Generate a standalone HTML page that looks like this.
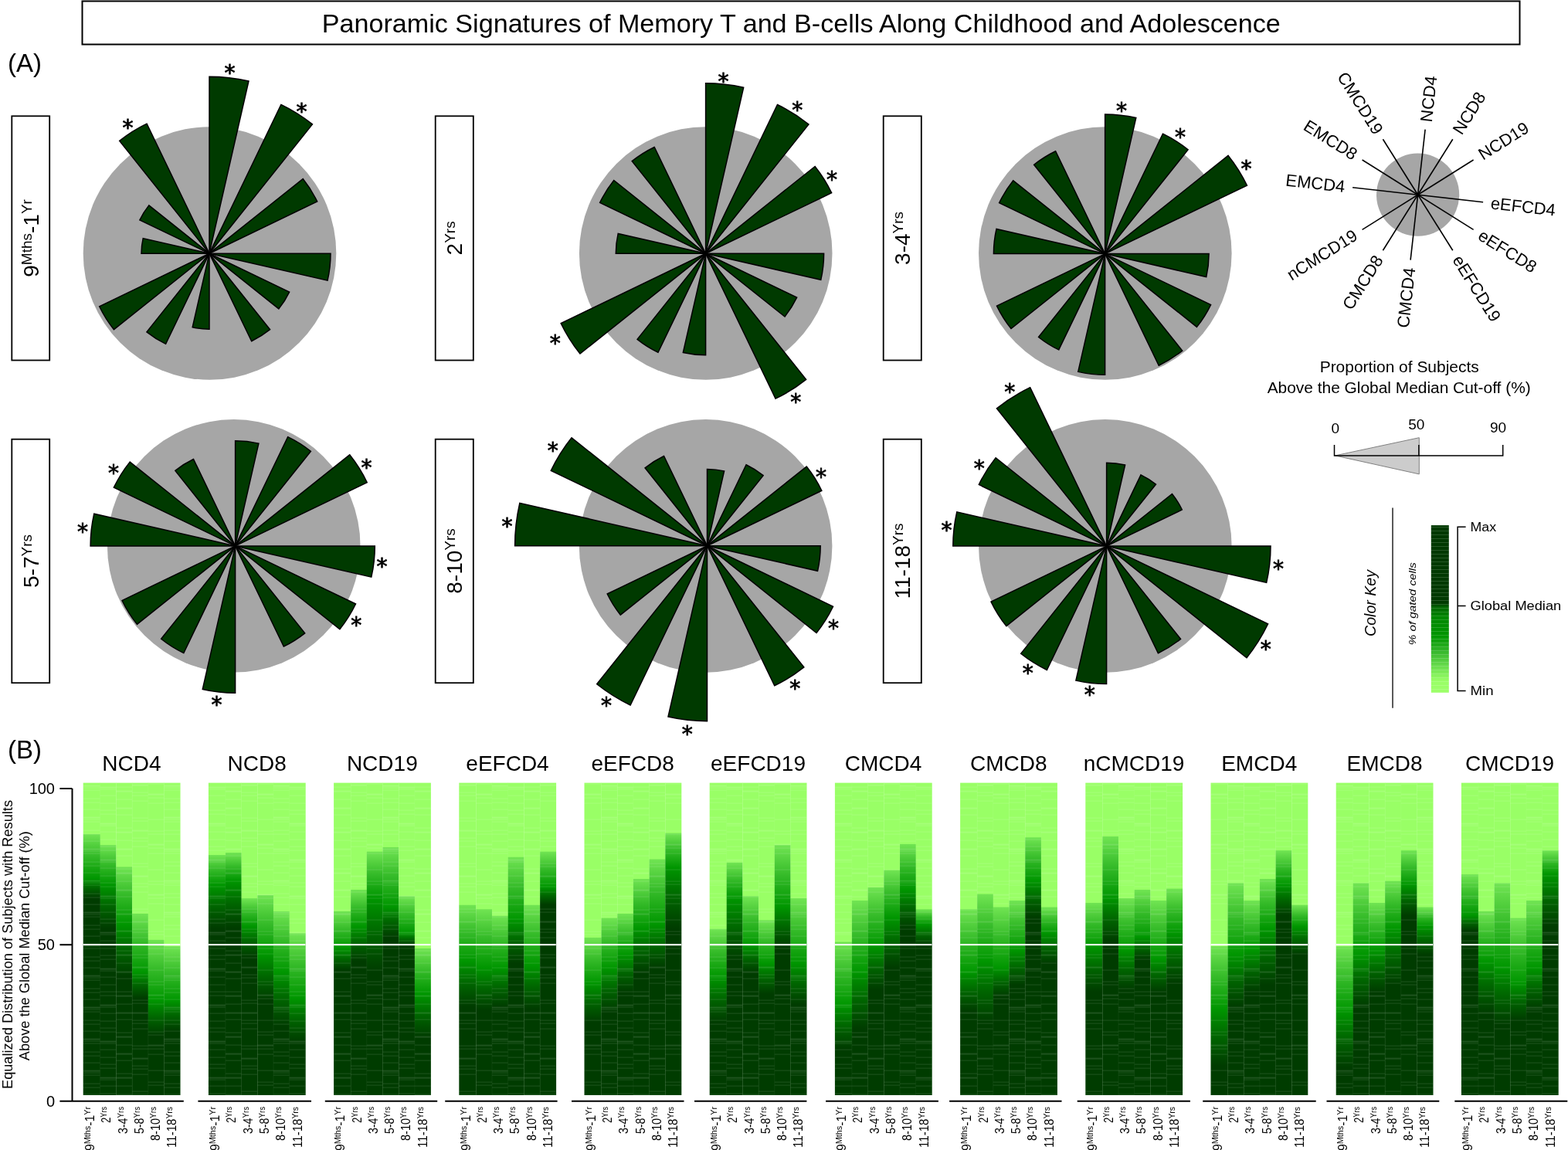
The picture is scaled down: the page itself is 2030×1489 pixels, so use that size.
<!DOCTYPE html>
<html><head><meta charset="utf-8"><title>Panoramic Signatures</title><style>html,body{margin:0;padding:0;background:#fff;}svg{display:block;}</style></head><body>
<svg width="2030" height="1489" viewBox="0 0 2030 1489">
<defs>
<linearGradient id="g0_0" x1="0" y1="0" x2="0" y2="1">
<stop offset="0.0000" stop-color="#99ff66"/>
<stop offset="0.1635" stop-color="#99ff66"/>
<stop offset="0.1655" stop-color="#70e452"/>
<stop offset="0.2349" stop-color="#34ba28"/>
<stop offset="0.3064" stop-color="#009600"/>
<stop offset="0.3377" stop-color="#006400"/>
<stop offset="0.3689" stop-color="#003c00"/>
<stop offset="1.0000" stop-color="#003c00"/>
</linearGradient>
<linearGradient id="g0_1" x1="0" y1="0" x2="0" y2="1">
<stop offset="0.0000" stop-color="#99ff66"/>
<stop offset="0.1983" stop-color="#99ff66"/>
<stop offset="0.2003" stop-color="#70e452"/>
<stop offset="0.2627" stop-color="#34ba28"/>
<stop offset="0.3272" stop-color="#009600"/>
<stop offset="0.3969" stop-color="#006400"/>
<stop offset="0.4666" stop-color="#003c00"/>
<stop offset="1.0000" stop-color="#003c00"/>
</linearGradient>
<linearGradient id="g0_2" x1="0" y1="0" x2="0" y2="1">
<stop offset="0.0000" stop-color="#99ff66"/>
<stop offset="0.2681" stop-color="#99ff66"/>
<stop offset="0.2701" stop-color="#70e452"/>
<stop offset="0.3604" stop-color="#34ba28"/>
<stop offset="0.4528" stop-color="#009600"/>
<stop offset="0.5364" stop-color="#006400"/>
<stop offset="0.6199" stop-color="#003c00"/>
<stop offset="1.0000" stop-color="#003c00"/>
</linearGradient>
<linearGradient id="g0_3" x1="0" y1="0" x2="0" y2="1">
<stop offset="0.0000" stop-color="#99ff66"/>
<stop offset="0.4179" stop-color="#99ff66"/>
<stop offset="0.4199" stop-color="#70e452"/>
<stop offset="0.5120" stop-color="#34ba28"/>
<stop offset="0.6061" stop-color="#009600"/>
<stop offset="0.6479" stop-color="#006400"/>
<stop offset="0.6897" stop-color="#003c00"/>
<stop offset="1.0000" stop-color="#003c00"/>
</linearGradient>
<linearGradient id="g0_4" x1="0" y1="0" x2="0" y2="1">
<stop offset="0.0000" stop-color="#99ff66"/>
<stop offset="0.5015" stop-color="#99ff66"/>
<stop offset="0.5035" stop-color="#70e452"/>
<stop offset="0.5990" stop-color="#34ba28"/>
<stop offset="0.6966" stop-color="#009600"/>
<stop offset="0.7523" stop-color="#006400"/>
<stop offset="0.8081" stop-color="#003c00"/>
<stop offset="1.0000" stop-color="#003c00"/>
</linearGradient>
<linearGradient id="g0_5" x1="0" y1="0" x2="0" y2="1">
<stop offset="0.0000" stop-color="#99ff66"/>
<stop offset="0.5223" stop-color="#99ff66"/>
<stop offset="0.5243" stop-color="#70e452"/>
<stop offset="0.6094" stop-color="#34ba28"/>
<stop offset="0.6966" stop-color="#009600"/>
<stop offset="0.7454" stop-color="#006400"/>
<stop offset="0.7943" stop-color="#003c00"/>
<stop offset="1.0000" stop-color="#003c00"/>
</linearGradient>
<linearGradient id="g1_0" x1="0" y1="0" x2="0" y2="1">
<stop offset="0.0000" stop-color="#99ff66"/>
<stop offset="0.2297" stop-color="#99ff66"/>
<stop offset="0.2317" stop-color="#70e452"/>
<stop offset="0.2786" stop-color="#34ba28"/>
<stop offset="0.3274" stop-color="#009600"/>
<stop offset="0.3966" stop-color="#006400"/>
<stop offset="0.4659" stop-color="#003c00"/>
<stop offset="1.0000" stop-color="#003c00"/>
</linearGradient>
<linearGradient id="g1_1" x1="0" y1="0" x2="0" y2="1">
<stop offset="0.0000" stop-color="#99ff66"/>
<stop offset="0.2226" stop-color="#99ff66"/>
<stop offset="0.2246" stop-color="#70e452"/>
<stop offset="0.2679" stop-color="#34ba28"/>
<stop offset="0.3133" stop-color="#009600"/>
<stop offset="0.3896" stop-color="#006400"/>
<stop offset="0.4659" stop-color="#003c00"/>
<stop offset="1.0000" stop-color="#003c00"/>
</linearGradient>
<linearGradient id="g1_2" x1="0" y1="0" x2="0" y2="1">
<stop offset="0.0000" stop-color="#99ff66"/>
<stop offset="0.3689" stop-color="#99ff66"/>
<stop offset="0.3709" stop-color="#70e452"/>
<stop offset="0.4143" stop-color="#34ba28"/>
<stop offset="0.4597" stop-color="#009600"/>
<stop offset="0.5085" stop-color="#006400"/>
<stop offset="0.5574" stop-color="#003c00"/>
<stop offset="1.0000" stop-color="#003c00"/>
</linearGradient>
<linearGradient id="g1_3" x1="0" y1="0" x2="0" y2="1">
<stop offset="0.0000" stop-color="#99ff66"/>
<stop offset="0.3586" stop-color="#99ff66"/>
<stop offset="0.3606" stop-color="#70e452"/>
<stop offset="0.4543" stop-color="#34ba28"/>
<stop offset="0.5500" stop-color="#009600"/>
<stop offset="0.6229" stop-color="#006400"/>
<stop offset="0.6958" stop-color="#003c00"/>
<stop offset="1.0000" stop-color="#003c00"/>
</linearGradient>
<linearGradient id="g1_4" x1="0" y1="0" x2="0" y2="1">
<stop offset="0.0000" stop-color="#99ff66"/>
<stop offset="0.4107" stop-color="#99ff66"/>
<stop offset="0.4127" stop-color="#70e452"/>
<stop offset="0.5084" stop-color="#34ba28"/>
<stop offset="0.6061" stop-color="#009600"/>
<stop offset="0.6930" stop-color="#006400"/>
<stop offset="0.7799" stop-color="#003c00"/>
<stop offset="1.0000" stop-color="#003c00"/>
</linearGradient>
<linearGradient id="g1_5" x1="0" y1="0" x2="0" y2="1">
<stop offset="0.0000" stop-color="#99ff66"/>
<stop offset="0.4807" stop-color="#99ff66"/>
<stop offset="0.4827" stop-color="#70e452"/>
<stop offset="0.5852" stop-color="#34ba28"/>
<stop offset="0.6897" stop-color="#009600"/>
<stop offset="0.7595" stop-color="#006400"/>
<stop offset="0.8294" stop-color="#003c00"/>
<stop offset="1.0000" stop-color="#003c00"/>
</linearGradient>
<linearGradient id="g2_0" x1="0" y1="0" x2="0" y2="1">
<stop offset="0.0000" stop-color="#99ff66"/>
<stop offset="0.4107" stop-color="#99ff66"/>
<stop offset="0.4127" stop-color="#70e452"/>
<stop offset="0.4701" stop-color="#34ba28"/>
<stop offset="0.5294" stop-color="#009600"/>
<stop offset="0.5642" stop-color="#006400"/>
<stop offset="0.5989" stop-color="#003c00"/>
<stop offset="1.0000" stop-color="#003c00"/>
</linearGradient>
<linearGradient id="g2_1" x1="0" y1="0" x2="0" y2="1">
<stop offset="0.0000" stop-color="#99ff66"/>
<stop offset="0.3412" stop-color="#99ff66"/>
<stop offset="0.3432" stop-color="#70e452"/>
<stop offset="0.4005" stop-color="#34ba28"/>
<stop offset="0.4597" stop-color="#009600"/>
<stop offset="0.5155" stop-color="#006400"/>
<stop offset="0.5712" stop-color="#003c00"/>
<stop offset="1.0000" stop-color="#003c00"/>
</linearGradient>
<linearGradient id="g2_2" x1="0" y1="0" x2="0" y2="1">
<stop offset="0.0000" stop-color="#99ff66"/>
<stop offset="0.2191" stop-color="#99ff66"/>
<stop offset="0.2211" stop-color="#70e452"/>
<stop offset="0.2940" stop-color="#34ba28"/>
<stop offset="0.3689" stop-color="#009600"/>
<stop offset="0.4875" stop-color="#006400"/>
<stop offset="0.6061" stop-color="#003c00"/>
<stop offset="1.0000" stop-color="#003c00"/>
</linearGradient>
<linearGradient id="g2_3" x1="0" y1="0" x2="0" y2="1">
<stop offset="0.0000" stop-color="#99ff66"/>
<stop offset="0.2052" stop-color="#99ff66"/>
<stop offset="0.2072" stop-color="#70e452"/>
<stop offset="0.3011" stop-color="#34ba28"/>
<stop offset="0.3969" stop-color="#009600"/>
<stop offset="0.4457" stop-color="#006400"/>
<stop offset="0.4946" stop-color="#003c00"/>
<stop offset="1.0000" stop-color="#003c00"/>
</linearGradient>
<linearGradient id="g2_4" x1="0" y1="0" x2="0" y2="1">
<stop offset="0.0000" stop-color="#99ff66"/>
<stop offset="0.3620" stop-color="#99ff66"/>
<stop offset="0.3640" stop-color="#70e452"/>
<stop offset="0.4214" stop-color="#34ba28"/>
<stop offset="0.4807" stop-color="#009600"/>
<stop offset="0.5015" stop-color="#006400"/>
<stop offset="0.5223" stop-color="#003c00"/>
<stop offset="1.0000" stop-color="#003c00"/>
</linearGradient>
<linearGradient id="g2_5" x1="0" y1="0" x2="0" y2="1">
<stop offset="0.0000" stop-color="#99ff66"/>
<stop offset="0.5294" stop-color="#99ff66"/>
<stop offset="0.5314" stop-color="#70e452"/>
<stop offset="0.6025" stop-color="#34ba28"/>
<stop offset="0.6756" stop-color="#009600"/>
<stop offset="0.7453" stop-color="#006400"/>
<stop offset="0.8150" stop-color="#003c00"/>
<stop offset="1.0000" stop-color="#003c00"/>
</linearGradient>
<linearGradient id="g3_0" x1="0" y1="0" x2="0" y2="1">
<stop offset="0.0000" stop-color="#99ff66"/>
<stop offset="0.3900" stop-color="#99ff66"/>
<stop offset="0.3920" stop-color="#70e452"/>
<stop offset="0.4806" stop-color="#34ba28"/>
<stop offset="0.5712" stop-color="#009600"/>
<stop offset="0.6444" stop-color="#006400"/>
<stop offset="0.7176" stop-color="#003c00"/>
<stop offset="1.0000" stop-color="#003c00"/>
</linearGradient>
<linearGradient id="g3_1" x1="0" y1="0" x2="0" y2="1">
<stop offset="0.0000" stop-color="#99ff66"/>
<stop offset="0.4038" stop-color="#99ff66"/>
<stop offset="0.4058" stop-color="#70e452"/>
<stop offset="0.4979" stop-color="#34ba28"/>
<stop offset="0.5920" stop-color="#009600"/>
<stop offset="0.6600" stop-color="#006400"/>
<stop offset="0.7280" stop-color="#003c00"/>
<stop offset="1.0000" stop-color="#003c00"/>
</linearGradient>
<linearGradient id="g3_2" x1="0" y1="0" x2="0" y2="1">
<stop offset="0.0000" stop-color="#99ff66"/>
<stop offset="0.4248" stop-color="#99ff66"/>
<stop offset="0.4268" stop-color="#70e452"/>
<stop offset="0.5084" stop-color="#34ba28"/>
<stop offset="0.5920" stop-color="#009600"/>
<stop offset="0.6548" stop-color="#006400"/>
<stop offset="0.7176" stop-color="#003c00"/>
<stop offset="1.0000" stop-color="#003c00"/>
</linearGradient>
<linearGradient id="g3_3" x1="0" y1="0" x2="0" y2="1">
<stop offset="0.0000" stop-color="#99ff66"/>
<stop offset="0.2366" stop-color="#99ff66"/>
<stop offset="0.2386" stop-color="#70e452"/>
<stop offset="0.3377" stop-color="#34ba28"/>
<stop offset="0.4387" stop-color="#009600"/>
<stop offset="0.5084" stop-color="#006400"/>
<stop offset="0.5781" stop-color="#003c00"/>
<stop offset="1.0000" stop-color="#003c00"/>
</linearGradient>
<linearGradient id="g3_4" x1="0" y1="0" x2="0" y2="1">
<stop offset="0.0000" stop-color="#99ff66"/>
<stop offset="0.3900" stop-color="#99ff66"/>
<stop offset="0.3920" stop-color="#70e452"/>
<stop offset="0.4875" stop-color="#34ba28"/>
<stop offset="0.5851" stop-color="#009600"/>
<stop offset="0.6548" stop-color="#006400"/>
<stop offset="0.7245" stop-color="#003c00"/>
<stop offset="1.0000" stop-color="#003c00"/>
</linearGradient>
<linearGradient id="g3_5" x1="0" y1="0" x2="0" y2="1">
<stop offset="0.0000" stop-color="#99ff66"/>
<stop offset="0.2191" stop-color="#99ff66"/>
<stop offset="0.2211" stop-color="#70e452"/>
<stop offset="0.2766" stop-color="#34ba28"/>
<stop offset="0.3341" stop-color="#009600"/>
<stop offset="0.3620" stop-color="#006400"/>
<stop offset="0.3900" stop-color="#003c00"/>
<stop offset="1.0000" stop-color="#003c00"/>
</linearGradient>
<linearGradient id="g4_0" x1="0" y1="0" x2="0" y2="1">
<stop offset="0.0000" stop-color="#99ff66"/>
<stop offset="0.4946" stop-color="#99ff66"/>
<stop offset="0.4966" stop-color="#70e452"/>
<stop offset="0.5678" stop-color="#34ba28"/>
<stop offset="0.6409" stop-color="#009600"/>
<stop offset="0.7036" stop-color="#006400"/>
<stop offset="0.7663" stop-color="#003c00"/>
<stop offset="1.0000" stop-color="#003c00"/>
</linearGradient>
<linearGradient id="g4_1" x1="0" y1="0" x2="0" y2="1">
<stop offset="0.0000" stop-color="#99ff66"/>
<stop offset="0.4318" stop-color="#99ff66"/>
<stop offset="0.4338" stop-color="#70e452"/>
<stop offset="0.5119" stop-color="#34ba28"/>
<stop offset="0.5920" stop-color="#009600"/>
<stop offset="0.6617" stop-color="#006400"/>
<stop offset="0.7315" stop-color="#003c00"/>
<stop offset="1.0000" stop-color="#003c00"/>
</linearGradient>
<linearGradient id="g4_2" x1="0" y1="0" x2="0" y2="1">
<stop offset="0.0000" stop-color="#99ff66"/>
<stop offset="0.4179" stop-color="#99ff66"/>
<stop offset="0.4199" stop-color="#70e452"/>
<stop offset="0.4841" stop-color="#34ba28"/>
<stop offset="0.5502" stop-color="#009600"/>
<stop offset="0.6094" stop-color="#006400"/>
<stop offset="0.6686" stop-color="#003c00"/>
<stop offset="1.0000" stop-color="#003c00"/>
</linearGradient>
<linearGradient id="g4_3" x1="0" y1="0" x2="0" y2="1">
<stop offset="0.0000" stop-color="#99ff66"/>
<stop offset="0.3064" stop-color="#99ff66"/>
<stop offset="0.3084" stop-color="#70e452"/>
<stop offset="0.3865" stop-color="#34ba28"/>
<stop offset="0.4666" stop-color="#009600"/>
<stop offset="0.5364" stop-color="#006400"/>
<stop offset="0.6061" stop-color="#003c00"/>
<stop offset="1.0000" stop-color="#003c00"/>
</linearGradient>
<linearGradient id="g4_4" x1="0" y1="0" x2="0" y2="1">
<stop offset="0.0000" stop-color="#99ff66"/>
<stop offset="0.2436" stop-color="#99ff66"/>
<stop offset="0.2456" stop-color="#70e452"/>
<stop offset="0.3482" stop-color="#34ba28"/>
<stop offset="0.4528" stop-color="#009600"/>
<stop offset="0.5224" stop-color="#006400"/>
<stop offset="0.5920" stop-color="#003c00"/>
<stop offset="1.0000" stop-color="#003c00"/>
</linearGradient>
<linearGradient id="g4_5" x1="0" y1="0" x2="0" y2="1">
<stop offset="0.0000" stop-color="#99ff66"/>
<stop offset="0.1600" stop-color="#99ff66"/>
<stop offset="0.1620" stop-color="#70e452"/>
<stop offset="0.2158" stop-color="#34ba28"/>
<stop offset="0.2715" stop-color="#009600"/>
<stop offset="0.3691" stop-color="#006400"/>
<stop offset="0.4666" stop-color="#003c00"/>
<stop offset="1.0000" stop-color="#003c00"/>
</linearGradient>
<linearGradient id="g5_0" x1="0" y1="0" x2="0" y2="1">
<stop offset="0.0000" stop-color="#99ff66"/>
<stop offset="0.4666" stop-color="#99ff66"/>
<stop offset="0.4686" stop-color="#70e452"/>
<stop offset="0.5433" stop-color="#34ba28"/>
<stop offset="0.6199" stop-color="#009600"/>
<stop offset="0.6931" stop-color="#006400"/>
<stop offset="0.7663" stop-color="#003c00"/>
<stop offset="1.0000" stop-color="#003c00"/>
</linearGradient>
<linearGradient id="g5_1" x1="0" y1="0" x2="0" y2="1">
<stop offset="0.0000" stop-color="#99ff66"/>
<stop offset="0.2540" stop-color="#99ff66"/>
<stop offset="0.2560" stop-color="#70e452"/>
<stop offset="0.3114" stop-color="#34ba28"/>
<stop offset="0.3689" stop-color="#009600"/>
<stop offset="0.4701" stop-color="#006400"/>
<stop offset="0.5712" stop-color="#003c00"/>
<stop offset="1.0000" stop-color="#003c00"/>
</linearGradient>
<linearGradient id="g5_2" x1="0" y1="0" x2="0" y2="1">
<stop offset="0.0000" stop-color="#99ff66"/>
<stop offset="0.3620" stop-color="#99ff66"/>
<stop offset="0.3640" stop-color="#70e452"/>
<stop offset="0.4421" stop-color="#34ba28"/>
<stop offset="0.5223" stop-color="#009600"/>
<stop offset="0.5642" stop-color="#006400"/>
<stop offset="0.6061" stop-color="#003c00"/>
<stop offset="1.0000" stop-color="#003c00"/>
</linearGradient>
<linearGradient id="g5_3" x1="0" y1="0" x2="0" y2="1">
<stop offset="0.0000" stop-color="#99ff66"/>
<stop offset="0.4387" stop-color="#99ff66"/>
<stop offset="0.4407" stop-color="#70e452"/>
<stop offset="0.5084" stop-color="#34ba28"/>
<stop offset="0.5781" stop-color="#009600"/>
<stop offset="0.6269" stop-color="#006400"/>
<stop offset="0.6756" stop-color="#003c00"/>
<stop offset="1.0000" stop-color="#003c00"/>
</linearGradient>
<linearGradient id="g5_4" x1="0" y1="0" x2="0" y2="1">
<stop offset="0.0000" stop-color="#99ff66"/>
<stop offset="0.1983" stop-color="#99ff66"/>
<stop offset="0.2003" stop-color="#70e452"/>
<stop offset="0.2976" stop-color="#34ba28"/>
<stop offset="0.3969" stop-color="#009600"/>
<stop offset="0.4632" stop-color="#006400"/>
<stop offset="0.5294" stop-color="#003c00"/>
<stop offset="1.0000" stop-color="#003c00"/>
</linearGradient>
<linearGradient id="g5_5" x1="0" y1="0" x2="0" y2="1">
<stop offset="0.0000" stop-color="#99ff66"/>
<stop offset="0.3689" stop-color="#99ff66"/>
<stop offset="0.3709" stop-color="#70e452"/>
<stop offset="0.4735" stop-color="#34ba28"/>
<stop offset="0.5781" stop-color="#009600"/>
<stop offset="0.6444" stop-color="#006400"/>
<stop offset="0.7107" stop-color="#003c00"/>
<stop offset="1.0000" stop-color="#003c00"/>
</linearGradient>
<linearGradient id="g6_0" x1="0" y1="0" x2="0" y2="1">
<stop offset="0.0000" stop-color="#99ff66"/>
<stop offset="0.5084" stop-color="#99ff66"/>
<stop offset="0.5104" stop-color="#70e452"/>
<stop offset="0.6095" stop-color="#34ba28"/>
<stop offset="0.7107" stop-color="#009600"/>
<stop offset="0.7803" stop-color="#006400"/>
<stop offset="0.8499" stop-color="#003c00"/>
<stop offset="1.0000" stop-color="#003c00"/>
</linearGradient>
<linearGradient id="g6_1" x1="0" y1="0" x2="0" y2="1">
<stop offset="0.0000" stop-color="#99ff66"/>
<stop offset="0.3761" stop-color="#99ff66"/>
<stop offset="0.3781" stop-color="#70e452"/>
<stop offset="0.4911" stop-color="#34ba28"/>
<stop offset="0.6061" stop-color="#009600"/>
<stop offset="0.6967" stop-color="#006400"/>
<stop offset="0.7873" stop-color="#003c00"/>
<stop offset="1.0000" stop-color="#003c00"/>
</linearGradient>
<linearGradient id="g6_2" x1="0" y1="0" x2="0" y2="1">
<stop offset="0.0000" stop-color="#99ff66"/>
<stop offset="0.3341" stop-color="#99ff66"/>
<stop offset="0.3361" stop-color="#70e452"/>
<stop offset="0.4282" stop-color="#34ba28"/>
<stop offset="0.5223" stop-color="#009600"/>
<stop offset="0.5920" stop-color="#006400"/>
<stop offset="0.6617" stop-color="#003c00"/>
<stop offset="1.0000" stop-color="#003c00"/>
</linearGradient>
<linearGradient id="g6_3" x1="0" y1="0" x2="0" y2="1">
<stop offset="0.0000" stop-color="#99ff66"/>
<stop offset="0.2784" stop-color="#99ff66"/>
<stop offset="0.2804" stop-color="#70e452"/>
<stop offset="0.3551" stop-color="#34ba28"/>
<stop offset="0.4318" stop-color="#009600"/>
<stop offset="0.5119" stop-color="#006400"/>
<stop offset="0.5920" stop-color="#003c00"/>
<stop offset="1.0000" stop-color="#003c00"/>
</linearGradient>
<linearGradient id="g6_4" x1="0" y1="0" x2="0" y2="1">
<stop offset="0.0000" stop-color="#99ff66"/>
<stop offset="0.1949" stop-color="#99ff66"/>
<stop offset="0.1969" stop-color="#70e452"/>
<stop offset="0.2681" stop-color="#34ba28"/>
<stop offset="0.3412" stop-color="#009600"/>
<stop offset="0.4039" stop-color="#006400"/>
<stop offset="0.4666" stop-color="#003c00"/>
<stop offset="1.0000" stop-color="#003c00"/>
</linearGradient>
<linearGradient id="g6_5" x1="0" y1="0" x2="0" y2="1">
<stop offset="0.0000" stop-color="#99ff66"/>
<stop offset="0.4038" stop-color="#99ff66"/>
<stop offset="0.4058" stop-color="#70e452"/>
<stop offset="0.4283" stop-color="#34ba28"/>
<stop offset="0.4528" stop-color="#009600"/>
<stop offset="0.4875" stop-color="#006400"/>
<stop offset="0.5223" stop-color="#003c00"/>
<stop offset="1.0000" stop-color="#003c00"/>
</linearGradient>
<linearGradient id="g7_0" x1="0" y1="0" x2="0" y2="1">
<stop offset="0.0000" stop-color="#99ff66"/>
<stop offset="0.4038" stop-color="#99ff66"/>
<stop offset="0.4058" stop-color="#70e452"/>
<stop offset="0.5049" stop-color="#34ba28"/>
<stop offset="0.6061" stop-color="#009600"/>
<stop offset="0.6688" stop-color="#006400"/>
<stop offset="0.7315" stop-color="#003c00"/>
<stop offset="1.0000" stop-color="#003c00"/>
</linearGradient>
<linearGradient id="g7_1" x1="0" y1="0" x2="0" y2="1">
<stop offset="0.0000" stop-color="#99ff66"/>
<stop offset="0.3551" stop-color="#99ff66"/>
<stop offset="0.3571" stop-color="#70e452"/>
<stop offset="0.4632" stop-color="#34ba28"/>
<stop offset="0.5712" stop-color="#009600"/>
<stop offset="0.6688" stop-color="#006400"/>
<stop offset="0.7663" stop-color="#003c00"/>
<stop offset="1.0000" stop-color="#003c00"/>
</linearGradient>
<linearGradient id="g7_2" x1="0" y1="0" x2="0" y2="1">
<stop offset="0.0000" stop-color="#99ff66"/>
<stop offset="0.3969" stop-color="#99ff66"/>
<stop offset="0.3989" stop-color="#70e452"/>
<stop offset="0.4944" stop-color="#34ba28"/>
<stop offset="0.5920" stop-color="#009600"/>
<stop offset="0.6374" stop-color="#006400"/>
<stop offset="0.6827" stop-color="#003c00"/>
<stop offset="1.0000" stop-color="#003c00"/>
</linearGradient>
<linearGradient id="g7_3" x1="0" y1="0" x2="0" y2="1">
<stop offset="0.0000" stop-color="#99ff66"/>
<stop offset="0.3761" stop-color="#99ff66"/>
<stop offset="0.3781" stop-color="#70e452"/>
<stop offset="0.4562" stop-color="#34ba28"/>
<stop offset="0.5364" stop-color="#009600"/>
<stop offset="0.5921" stop-color="#006400"/>
<stop offset="0.6479" stop-color="#003c00"/>
<stop offset="1.0000" stop-color="#003c00"/>
</linearGradient>
<linearGradient id="g7_4" x1="0" y1="0" x2="0" y2="1">
<stop offset="0.0000" stop-color="#99ff66"/>
<stop offset="0.1738" stop-color="#99ff66"/>
<stop offset="0.1758" stop-color="#70e452"/>
<stop offset="0.2436" stop-color="#34ba28"/>
<stop offset="0.3133" stop-color="#009600"/>
<stop offset="0.3725" stop-color="#006400"/>
<stop offset="0.4318" stop-color="#003c00"/>
<stop offset="1.0000" stop-color="#003c00"/>
</linearGradient>
<linearGradient id="g7_5" x1="0" y1="0" x2="0" y2="1">
<stop offset="0.0000" stop-color="#99ff66"/>
<stop offset="0.3969" stop-color="#99ff66"/>
<stop offset="0.3989" stop-color="#70e452"/>
<stop offset="0.4387" stop-color="#34ba28"/>
<stop offset="0.4805" stop-color="#009600"/>
<stop offset="0.5293" stop-color="#006400"/>
<stop offset="0.5781" stop-color="#003c00"/>
<stop offset="1.0000" stop-color="#003c00"/>
</linearGradient>
<linearGradient id="g8_0" x1="0" y1="0" x2="0" y2="1">
<stop offset="0.0000" stop-color="#99ff66"/>
<stop offset="0.3830" stop-color="#99ff66"/>
<stop offset="0.3850" stop-color="#70e452"/>
<stop offset="0.4526" stop-color="#34ba28"/>
<stop offset="0.5223" stop-color="#009600"/>
<stop offset="0.5955" stop-color="#006400"/>
<stop offset="0.6686" stop-color="#003c00"/>
<stop offset="1.0000" stop-color="#003c00"/>
</linearGradient>
<linearGradient id="g8_1" x1="0" y1="0" x2="0" y2="1">
<stop offset="0.0000" stop-color="#99ff66"/>
<stop offset="0.1704" stop-color="#99ff66"/>
<stop offset="0.1724" stop-color="#70e452"/>
<stop offset="0.2697" stop-color="#34ba28"/>
<stop offset="0.3689" stop-color="#009600"/>
<stop offset="0.4387" stop-color="#006400"/>
<stop offset="0.5084" stop-color="#003c00"/>
<stop offset="1.0000" stop-color="#003c00"/>
</linearGradient>
<linearGradient id="g8_2" x1="0" y1="0" x2="0" y2="1">
<stop offset="0.0000" stop-color="#99ff66"/>
<stop offset="0.3689" stop-color="#99ff66"/>
<stop offset="0.3709" stop-color="#70e452"/>
<stop offset="0.4526" stop-color="#34ba28"/>
<stop offset="0.5364" stop-color="#009600"/>
<stop offset="0.5990" stop-color="#006400"/>
<stop offset="0.6617" stop-color="#003c00"/>
<stop offset="1.0000" stop-color="#003c00"/>
</linearGradient>
<linearGradient id="g8_3" x1="0" y1="0" x2="0" y2="1">
<stop offset="0.0000" stop-color="#99ff66"/>
<stop offset="0.3412" stop-color="#99ff66"/>
<stop offset="0.3432" stop-color="#70e452"/>
<stop offset="0.4179" stop-color="#34ba28"/>
<stop offset="0.4946" stop-color="#009600"/>
<stop offset="0.5294" stop-color="#006400"/>
<stop offset="0.5643" stop-color="#003c00"/>
<stop offset="1.0000" stop-color="#003c00"/>
</linearGradient>
<linearGradient id="g8_4" x1="0" y1="0" x2="0" y2="1">
<stop offset="0.0000" stop-color="#99ff66"/>
<stop offset="0.3761" stop-color="#99ff66"/>
<stop offset="0.3781" stop-color="#70e452"/>
<stop offset="0.4702" stop-color="#34ba28"/>
<stop offset="0.5643" stop-color="#009600"/>
<stop offset="0.6165" stop-color="#006400"/>
<stop offset="0.6686" stop-color="#003c00"/>
<stop offset="1.0000" stop-color="#003c00"/>
</linearGradient>
<linearGradient id="g8_5" x1="0" y1="0" x2="0" y2="1">
<stop offset="0.0000" stop-color="#99ff66"/>
<stop offset="0.3378" stop-color="#99ff66"/>
<stop offset="0.3398" stop-color="#70e452"/>
<stop offset="0.4091" stop-color="#34ba28"/>
<stop offset="0.4805" stop-color="#009600"/>
<stop offset="0.5607" stop-color="#006400"/>
<stop offset="0.6409" stop-color="#003c00"/>
<stop offset="1.0000" stop-color="#003c00"/>
</linearGradient>
<linearGradient id="g9_0" x1="0" y1="0" x2="0" y2="1">
<stop offset="0.0000" stop-color="#99ff66"/>
<stop offset="0.5223" stop-color="#99ff66"/>
<stop offset="0.5243" stop-color="#70e452"/>
<stop offset="0.6234" stop-color="#34ba28"/>
<stop offset="0.7245" stop-color="#009600"/>
<stop offset="0.8152" stop-color="#006400"/>
<stop offset="0.9058" stop-color="#003c00"/>
<stop offset="1.0000" stop-color="#003c00"/>
</linearGradient>
<linearGradient id="g9_1" x1="0" y1="0" x2="0" y2="1">
<stop offset="0.0000" stop-color="#99ff66"/>
<stop offset="0.3202" stop-color="#99ff66"/>
<stop offset="0.3222" stop-color="#70e452"/>
<stop offset="0.4352" stop-color="#34ba28"/>
<stop offset="0.5502" stop-color="#009600"/>
<stop offset="0.6339" stop-color="#006400"/>
<stop offset="0.7176" stop-color="#003c00"/>
<stop offset="1.0000" stop-color="#003c00"/>
</linearGradient>
<linearGradient id="g9_2" x1="0" y1="0" x2="0" y2="1">
<stop offset="0.0000" stop-color="#99ff66"/>
<stop offset="0.3761" stop-color="#99ff66"/>
<stop offset="0.3781" stop-color="#70e452"/>
<stop offset="0.4562" stop-color="#34ba28"/>
<stop offset="0.5364" stop-color="#009600"/>
<stop offset="0.6025" stop-color="#006400"/>
<stop offset="0.6686" stop-color="#003c00"/>
<stop offset="1.0000" stop-color="#003c00"/>
</linearGradient>
<linearGradient id="g9_3" x1="0" y1="0" x2="0" y2="1">
<stop offset="0.0000" stop-color="#99ff66"/>
<stop offset="0.3064" stop-color="#99ff66"/>
<stop offset="0.3084" stop-color="#70e452"/>
<stop offset="0.3865" stop-color="#34ba28"/>
<stop offset="0.4666" stop-color="#009600"/>
<stop offset="0.5572" stop-color="#006400"/>
<stop offset="0.6479" stop-color="#003c00"/>
<stop offset="1.0000" stop-color="#003c00"/>
</linearGradient>
<linearGradient id="g9_4" x1="0" y1="0" x2="0" y2="1">
<stop offset="0.0000" stop-color="#99ff66"/>
<stop offset="0.2156" stop-color="#99ff66"/>
<stop offset="0.2176" stop-color="#70e452"/>
<stop offset="0.2714" stop-color="#34ba28"/>
<stop offset="0.3272" stop-color="#009600"/>
<stop offset="0.3760" stop-color="#006400"/>
<stop offset="0.4248" stop-color="#003c00"/>
<stop offset="1.0000" stop-color="#003c00"/>
</linearGradient>
<linearGradient id="g9_5" x1="0" y1="0" x2="0" y2="1">
<stop offset="0.0000" stop-color="#99ff66"/>
<stop offset="0.3900" stop-color="#99ff66"/>
<stop offset="0.3920" stop-color="#70e452"/>
<stop offset="0.4248" stop-color="#34ba28"/>
<stop offset="0.4597" stop-color="#009600"/>
<stop offset="0.5049" stop-color="#006400"/>
<stop offset="0.5502" stop-color="#003c00"/>
<stop offset="1.0000" stop-color="#003c00"/>
</linearGradient>
<linearGradient id="g10_0" x1="0" y1="0" x2="0" y2="1">
<stop offset="0.0000" stop-color="#99ff66"/>
<stop offset="0.5223" stop-color="#99ff66"/>
<stop offset="0.5243" stop-color="#70e452"/>
<stop offset="0.6269" stop-color="#34ba28"/>
<stop offset="0.7315" stop-color="#009600"/>
<stop offset="0.8221" stop-color="#006400"/>
<stop offset="0.9127" stop-color="#003c00"/>
<stop offset="1.0000" stop-color="#003c00"/>
</linearGradient>
<linearGradient id="g10_1" x1="0" y1="0" x2="0" y2="1">
<stop offset="0.0000" stop-color="#99ff66"/>
<stop offset="0.3202" stop-color="#99ff66"/>
<stop offset="0.3222" stop-color="#70e452"/>
<stop offset="0.4352" stop-color="#34ba28"/>
<stop offset="0.5502" stop-color="#009600"/>
<stop offset="0.6339" stop-color="#006400"/>
<stop offset="0.7176" stop-color="#003c00"/>
<stop offset="1.0000" stop-color="#003c00"/>
</linearGradient>
<linearGradient id="g10_2" x1="0" y1="0" x2="0" y2="1">
<stop offset="0.0000" stop-color="#99ff66"/>
<stop offset="0.3830" stop-color="#99ff66"/>
<stop offset="0.3850" stop-color="#70e452"/>
<stop offset="0.4597" stop-color="#34ba28"/>
<stop offset="0.5364" stop-color="#009600"/>
<stop offset="0.6025" stop-color="#006400"/>
<stop offset="0.6686" stop-color="#003c00"/>
<stop offset="1.0000" stop-color="#003c00"/>
</linearGradient>
<linearGradient id="g10_3" x1="0" y1="0" x2="0" y2="1">
<stop offset="0.0000" stop-color="#99ff66"/>
<stop offset="0.3133" stop-color="#99ff66"/>
<stop offset="0.3153" stop-color="#70e452"/>
<stop offset="0.3900" stop-color="#34ba28"/>
<stop offset="0.4666" stop-color="#009600"/>
<stop offset="0.5572" stop-color="#006400"/>
<stop offset="0.6479" stop-color="#003c00"/>
<stop offset="1.0000" stop-color="#003c00"/>
</linearGradient>
<linearGradient id="g10_4" x1="0" y1="0" x2="0" y2="1">
<stop offset="0.0000" stop-color="#99ff66"/>
<stop offset="0.2156" stop-color="#99ff66"/>
<stop offset="0.2176" stop-color="#70e452"/>
<stop offset="0.2714" stop-color="#34ba28"/>
<stop offset="0.3272" stop-color="#009600"/>
<stop offset="0.3760" stop-color="#006400"/>
<stop offset="0.4248" stop-color="#003c00"/>
<stop offset="1.0000" stop-color="#003c00"/>
</linearGradient>
<linearGradient id="g10_5" x1="0" y1="0" x2="0" y2="1">
<stop offset="0.0000" stop-color="#99ff66"/>
<stop offset="0.3969" stop-color="#99ff66"/>
<stop offset="0.3989" stop-color="#70e452"/>
<stop offset="0.4283" stop-color="#34ba28"/>
<stop offset="0.4597" stop-color="#009600"/>
<stop offset="0.5049" stop-color="#006400"/>
<stop offset="0.5502" stop-color="#003c00"/>
<stop offset="1.0000" stop-color="#003c00"/>
</linearGradient>
<linearGradient id="g11_0" x1="0" y1="0" x2="0" y2="1">
<stop offset="0.0000" stop-color="#99ff66"/>
<stop offset="0.2923" stop-color="#99ff66"/>
<stop offset="0.2943" stop-color="#70e452"/>
<stop offset="0.3586" stop-color="#34ba28"/>
<stop offset="0.4248" stop-color="#009600"/>
<stop offset="0.4492" stop-color="#006400"/>
<stop offset="0.4735" stop-color="#003c00"/>
<stop offset="1.0000" stop-color="#003c00"/>
</linearGradient>
<linearGradient id="g11_1" x1="0" y1="0" x2="0" y2="1">
<stop offset="0.0000" stop-color="#99ff66"/>
<stop offset="0.4107" stop-color="#99ff66"/>
<stop offset="0.4127" stop-color="#70e452"/>
<stop offset="0.4910" stop-color="#34ba28"/>
<stop offset="0.5712" stop-color="#009600"/>
<stop offset="0.6548" stop-color="#006400"/>
<stop offset="0.7384" stop-color="#003c00"/>
<stop offset="1.0000" stop-color="#003c00"/>
</linearGradient>
<linearGradient id="g11_2" x1="0" y1="0" x2="0" y2="1">
<stop offset="0.0000" stop-color="#99ff66"/>
<stop offset="0.3202" stop-color="#99ff66"/>
<stop offset="0.3222" stop-color="#70e452"/>
<stop offset="0.4561" stop-color="#34ba28"/>
<stop offset="0.5920" stop-color="#009600"/>
<stop offset="0.6826" stop-color="#006400"/>
<stop offset="0.7732" stop-color="#003c00"/>
<stop offset="1.0000" stop-color="#003c00"/>
</linearGradient>
<linearGradient id="g11_3" x1="0" y1="0" x2="0" y2="1">
<stop offset="0.0000" stop-color="#99ff66"/>
<stop offset="0.4318" stop-color="#99ff66"/>
<stop offset="0.4338" stop-color="#70e452"/>
<stop offset="0.5364" stop-color="#34ba28"/>
<stop offset="0.6409" stop-color="#009600"/>
<stop offset="0.7002" stop-color="#006400"/>
<stop offset="0.7594" stop-color="#003c00"/>
<stop offset="1.0000" stop-color="#003c00"/>
</linearGradient>
<linearGradient id="g11_4" x1="0" y1="0" x2="0" y2="1">
<stop offset="0.0000" stop-color="#99ff66"/>
<stop offset="0.3761" stop-color="#99ff66"/>
<stop offset="0.3781" stop-color="#70e452"/>
<stop offset="0.4841" stop-color="#34ba28"/>
<stop offset="0.5920" stop-color="#009600"/>
<stop offset="0.6583" stop-color="#006400"/>
<stop offset="0.7245" stop-color="#003c00"/>
<stop offset="1.0000" stop-color="#003c00"/>
</linearGradient>
<linearGradient id="g11_5" x1="0" y1="0" x2="0" y2="1">
<stop offset="0.0000" stop-color="#99ff66"/>
<stop offset="0.2156" stop-color="#99ff66"/>
<stop offset="0.2176" stop-color="#70e452"/>
<stop offset="0.2540" stop-color="#34ba28"/>
<stop offset="0.2923" stop-color="#009600"/>
<stop offset="0.3760" stop-color="#006400"/>
<stop offset="0.4597" stop-color="#003c00"/>
<stop offset="1.0000" stop-color="#003c00"/>
</linearGradient>
<pattern id="st0" x="0" y="1013.6" width="30" height="41" patternUnits="userSpaceOnUse"><rect x="0" y="3" width="30" height="0.9" fill="#ffffff" fill-opacity="0.13"/><rect x="0" y="4" width="30" height="0.9" fill="#ffffff" fill-opacity="0.13"/><rect x="0" y="6" width="30" height="0.9" fill="#ffffff" fill-opacity="0.13"/><rect x="0" y="9" width="30" height="0.9" fill="#ffffff" fill-opacity="0.13"/><rect x="0" y="20" width="30" height="0.9" fill="#ffffff" fill-opacity="0.13"/><rect x="0" y="25" width="30" height="0.9" fill="#ffffff" fill-opacity="0.13"/><rect x="0" y="34" width="30" height="0.9" fill="#ffffff" fill-opacity="0.13"/></pattern>
<pattern id="st1" x="0" y="1016.6" width="30" height="47" patternUnits="userSpaceOnUse"><rect x="0" y="2" width="30" height="0.9" fill="#ffffff" fill-opacity="0.13"/><rect x="0" y="3" width="30" height="0.9" fill="#ffffff" fill-opacity="0.13"/><rect x="0" y="5" width="30" height="0.9" fill="#ffffff" fill-opacity="0.13"/><rect x="0" y="13" width="30" height="0.9" fill="#ffffff" fill-opacity="0.13"/><rect x="0" y="23" width="30" height="0.9" fill="#ffffff" fill-opacity="0.13"/><rect x="0" y="32" width="30" height="0.9" fill="#ffffff" fill-opacity="0.13"/><rect x="0" y="37" width="30" height="0.9" fill="#ffffff" fill-opacity="0.13"/></pattern>
<pattern id="st2" x="0" y="1019.6" width="30" height="53" patternUnits="userSpaceOnUse"><rect x="0" y="4" width="30" height="0.9" fill="#ffffff" fill-opacity="0.13"/><rect x="0" y="5" width="30" height="0.9" fill="#ffffff" fill-opacity="0.13"/><rect x="0" y="15" width="30" height="0.9" fill="#ffffff" fill-opacity="0.13"/><rect x="0" y="26" width="30" height="0.9" fill="#ffffff" fill-opacity="0.13"/><rect x="0" y="27" width="30" height="0.9" fill="#ffffff" fill-opacity="0.13"/><rect x="0" y="35" width="30" height="0.9" fill="#ffffff" fill-opacity="0.13"/><rect x="0" y="52" width="30" height="0.9" fill="#ffffff" fill-opacity="0.13"/></pattern>
<pattern id="st3" x="0" y="1022.6" width="30" height="59" patternUnits="userSpaceOnUse"><rect x="0" y="3" width="30" height="0.9" fill="#ffffff" fill-opacity="0.13"/><rect x="0" y="7" width="30" height="0.9" fill="#ffffff" fill-opacity="0.13"/><rect x="0" y="14" width="30" height="0.9" fill="#ffffff" fill-opacity="0.13"/><rect x="0" y="36" width="30" height="0.9" fill="#ffffff" fill-opacity="0.13"/><rect x="0" y="40" width="30" height="0.9" fill="#ffffff" fill-opacity="0.13"/><rect x="0" y="52" width="30" height="0.9" fill="#ffffff" fill-opacity="0.13"/><rect x="0" y="53" width="30" height="0.9" fill="#ffffff" fill-opacity="0.13"/></pattern>
<pattern id="st4" x="0" y="1025.6" width="30" height="65" patternUnits="userSpaceOnUse"><rect x="0" y="2" width="30" height="0.9" fill="#ffffff" fill-opacity="0.13"/><rect x="0" y="3" width="30" height="0.9" fill="#ffffff" fill-opacity="0.13"/><rect x="0" y="7" width="30" height="0.9" fill="#ffffff" fill-opacity="0.13"/><rect x="0" y="14" width="30" height="0.9" fill="#ffffff" fill-opacity="0.13"/><rect x="0" y="35" width="30" height="0.9" fill="#ffffff" fill-opacity="0.13"/><rect x="0" y="50" width="30" height="0.9" fill="#ffffff" fill-opacity="0.13"/><rect x="0" y="54" width="30" height="0.9" fill="#ffffff" fill-opacity="0.13"/></pattern>
</defs>
<rect width="2030" height="1489" fill="#ffffff"/>
<rect x="106.5" y="1.5" width="1861" height="56" fill="none" stroke="#000" stroke-width="2"/>
<text x="416.8" y="42.3" font-family="'Liberation Sans', Arial, sans-serif" font-size="34" textLength="1241" lengthAdjust="spacingAndGlyphs">Panoramic Signatures of Memory T and B-cells Along Childhood and Adolescence</text>
<text x="10" y="92.5" font-family="'Liberation Sans', Arial, sans-serif" font-size="33">(A)</text>
<text x="10" y="982" font-family="'Liberation Sans', Arial, sans-serif" font-size="33">(B)</text>
<circle cx="271.5" cy="328.0" r="163.8" fill="#a6a6a6"/>
<path d="M271.00,328.20L271.00,99.20A229.00,229.00 0 0 1 321.96,104.94Z" fill="#003a00" stroke="#000" stroke-width="1.5" stroke-linejoin="miter"/>
<path d="M271.00,328.20L363.85,135.39A214.00,214.00 0 0 1 404.43,160.89Z" fill="#003a00" stroke="#000" stroke-width="1.5" stroke-linejoin="miter"/>
<path d="M271.00,328.20L392.18,231.56A155.00,155.00 0 0 1 410.65,260.95Z" fill="#003a00" stroke="#000" stroke-width="1.5" stroke-linejoin="miter"/>
<path d="M271.00,328.20L428.00,328.20A157.00,157.00 0 0 1 424.06,363.14Z" fill="#003a00" stroke="#000" stroke-width="1.5" stroke-linejoin="miter"/>
<path d="M271.00,328.20L374.61,378.10A115.00,115.00 0 0 1 360.91,399.90Z" fill="#003a00" stroke="#000" stroke-width="1.5" stroke-linejoin="miter"/>
<path d="M271.00,328.20L349.56,426.71A126.00,126.00 0 0 1 325.67,441.72Z" fill="#003a00" stroke="#000" stroke-width="1.5" stroke-linejoin="miter"/>
<path d="M271.00,328.20L271.00,426.20A98.00,98.00 0 0 1 249.19,423.74Z" fill="#003a00" stroke="#000" stroke-width="1.5" stroke-linejoin="miter"/>
<path d="M271.00,328.20L214.60,445.33A130.00,130.00 0 0 1 189.95,429.84Z" fill="#003a00" stroke="#000" stroke-width="1.5" stroke-linejoin="miter"/>
<path d="M271.00,328.20L147.47,426.71A158.00,158.00 0 0 1 128.65,396.75Z" fill="#003a00" stroke="#000" stroke-width="1.5" stroke-linejoin="miter"/>
<path d="M271.00,328.20L183.00,328.20A88.00,88.00 0 0 1 185.21,308.62Z" fill="#003a00" stroke="#000" stroke-width="1.5" stroke-linejoin="miter"/>
<path d="M271.00,328.20L180.90,284.81A100.00,100.00 0 0 1 192.82,265.85Z" fill="#003a00" stroke="#000" stroke-width="1.5" stroke-linejoin="miter"/>
<path d="M271.00,328.20L154.72,182.39A186.50,186.50 0 0 1 190.08,160.17Z" fill="#003a00" stroke="#000" stroke-width="1.5" stroke-linejoin="miter"/>
<text x="297.5" y="104.2" font-family="'DejaVu Sans', sans-serif" font-size="28" stroke="#000" stroke-width="0.8" text-anchor="middle">*</text>
<text x="390.6" y="153.7" font-family="'DejaVu Sans', sans-serif" font-size="28" stroke="#000" stroke-width="0.8" text-anchor="middle">*</text>
<text x="165.5" y="174.8" font-family="'DejaVu Sans', sans-serif" font-size="28" stroke="#000" stroke-width="0.8" text-anchor="middle">*</text>
<circle cx="913.7" cy="328.0" r="163.8" fill="#a6a6a6"/>
<path d="M913.60,328.30L913.60,107.80A220.50,220.50 0 0 1 962.67,113.33Z" fill="#003a00" stroke="#000" stroke-width="1.5" stroke-linejoin="miter"/>
<path d="M913.60,328.30L1006.45,135.49A214.00,214.00 0 0 1 1047.03,160.99Z" fill="#003a00" stroke="#000" stroke-width="1.5" stroke-linejoin="miter"/>
<path d="M913.60,328.30L1055.11,215.45A181.00,181.00 0 0 1 1076.68,249.77Z" fill="#003a00" stroke="#000" stroke-width="1.5" stroke-linejoin="miter"/>
<path d="M913.60,328.30L1066.60,328.30A153.00,153.00 0 0 1 1062.76,362.35Z" fill="#003a00" stroke="#000" stroke-width="1.5" stroke-linejoin="miter"/>
<path d="M913.60,328.30L1031.63,385.14A131.00,131.00 0 0 1 1016.02,409.98Z" fill="#003a00" stroke="#000" stroke-width="1.5" stroke-linejoin="miter"/>
<path d="M913.60,328.30L1043.60,491.31A208.50,208.50 0 0 1 1004.06,516.15Z" fill="#003a00" stroke="#000" stroke-width="1.5" stroke-linejoin="miter"/>
<path d="M913.60,328.30L913.60,459.80A131.50,131.50 0 0 1 884.34,456.50Z" fill="#003a00" stroke="#000" stroke-width="1.5" stroke-linejoin="miter"/>
<path d="M913.60,328.30L851.99,456.24A142.00,142.00 0 0 1 825.06,439.32Z" fill="#003a00" stroke="#000" stroke-width="1.5" stroke-linejoin="miter"/>
<path d="M913.60,328.30L750.98,457.99A208.00,208.00 0 0 1 726.20,418.55Z" fill="#003a00" stroke="#000" stroke-width="1.5" stroke-linejoin="miter"/>
<path d="M913.60,328.30L797.30,328.30A116.30,116.30 0 0 1 800.22,302.42Z" fill="#003a00" stroke="#000" stroke-width="1.5" stroke-linejoin="miter"/>
<path d="M913.60,328.30L776.65,262.35A152.00,152.00 0 0 1 794.76,233.53Z" fill="#003a00" stroke="#000" stroke-width="1.5" stroke-linejoin="miter"/>
<path d="M913.60,328.30L818.21,208.68A153.00,153.00 0 0 1 847.22,190.45Z" fill="#003a00" stroke="#000" stroke-width="1.5" stroke-linejoin="miter"/>
<text x="936.6" y="114.8" font-family="'DejaVu Sans', sans-serif" font-size="28" stroke="#000" stroke-width="0.8" text-anchor="middle">*</text>
<text x="1032.3" y="152.3" font-family="'DejaVu Sans', sans-serif" font-size="28" stroke="#000" stroke-width="0.8" text-anchor="middle">*</text>
<text x="1077.0" y="241.8" font-family="'DejaVu Sans', sans-serif" font-size="28" stroke="#000" stroke-width="0.8" text-anchor="middle">*</text>
<text x="718.7" y="453.9" font-family="'DejaVu Sans', sans-serif" font-size="28" stroke="#000" stroke-width="0.8" text-anchor="middle">*</text>
<text x="1030.2" y="530.4" font-family="'DejaVu Sans', sans-serif" font-size="28" stroke="#000" stroke-width="0.8" text-anchor="middle">*</text>
<circle cx="1430.8" cy="328.0" r="163.8" fill="#a6a6a6"/>
<path d="M1430.60,328.60L1430.60,147.90A180.70,180.70 0 0 1 1470.81,152.43Z" fill="#003a00" stroke="#000" stroke-width="1.5" stroke-linejoin="miter"/>
<path d="M1430.60,328.60L1505.44,173.18A172.50,172.50 0 0 1 1538.15,193.73Z" fill="#003a00" stroke="#000" stroke-width="1.5" stroke-linejoin="miter"/>
<path d="M1430.60,328.60L1590.09,201.41A204.00,204.00 0 0 1 1614.40,240.09Z" fill="#003a00" stroke="#000" stroke-width="1.5" stroke-linejoin="miter"/>
<path d="M1430.60,328.60L1565.10,328.60A134.50,134.50 0 0 1 1561.73,358.53Z" fill="#003a00" stroke="#000" stroke-width="1.5" stroke-linejoin="miter"/>
<path d="M1430.60,328.60L1567.55,394.55A152.00,152.00 0 0 1 1549.44,423.37Z" fill="#003a00" stroke="#000" stroke-width="1.5" stroke-linejoin="miter"/>
<path d="M1430.60,328.60L1530.67,454.08A160.50,160.50 0 0 1 1500.24,473.21Z" fill="#003a00" stroke="#000" stroke-width="1.5" stroke-linejoin="miter"/>
<path d="M1430.60,328.60L1430.60,485.30A156.70,156.70 0 0 1 1395.73,481.37Z" fill="#003a00" stroke="#000" stroke-width="1.5" stroke-linejoin="miter"/>
<path d="M1430.60,328.60L1370.72,452.93A138.00,138.00 0 0 1 1344.56,436.49Z" fill="#003a00" stroke="#000" stroke-width="1.5" stroke-linejoin="miter"/>
<path d="M1430.60,328.60L1309.03,425.55A155.50,155.50 0 0 1 1290.50,396.07Z" fill="#003a00" stroke="#000" stroke-width="1.5" stroke-linejoin="miter"/>
<path d="M1430.60,328.60L1286.40,328.60A144.20,144.20 0 0 1 1290.02,296.51Z" fill="#003a00" stroke="#000" stroke-width="1.5" stroke-linejoin="miter"/>
<path d="M1430.60,328.60L1293.65,262.65A152.00,152.00 0 0 1 1311.76,233.83Z" fill="#003a00" stroke="#000" stroke-width="1.5" stroke-linejoin="miter"/>
<path d="M1430.60,328.60L1338.64,213.28A147.50,147.50 0 0 1 1366.60,195.71Z" fill="#003a00" stroke="#000" stroke-width="1.5" stroke-linejoin="miter"/>
<text x="1451.9" y="153.4" font-family="'DejaVu Sans', sans-serif" font-size="28" stroke="#000" stroke-width="0.8" text-anchor="middle">*</text>
<text x="1528.0" y="186.7" font-family="'DejaVu Sans', sans-serif" font-size="28" stroke="#000" stroke-width="0.8" text-anchor="middle">*</text>
<text x="1613.5" y="227.5" font-family="'DejaVu Sans', sans-serif" font-size="28" stroke="#000" stroke-width="0.8" text-anchor="middle">*</text>
<circle cx="302.7" cy="706.8" r="163.8" fill="#a6a6a6"/>
<path d="M304.60,706.90L304.60,570.70A136.20,136.20 0 0 1 334.91,574.11Z" fill="#003a00" stroke="#000" stroke-width="1.5" stroke-linejoin="miter"/>
<path d="M304.60,706.90L372.63,565.63A156.80,156.80 0 0 1 402.36,584.31Z" fill="#003a00" stroke="#000" stroke-width="1.5" stroke-linejoin="miter"/>
<path d="M304.60,706.90L452.68,588.81A189.40,189.40 0 0 1 475.24,624.72Z" fill="#003a00" stroke="#000" stroke-width="1.5" stroke-linejoin="miter"/>
<path d="M304.60,706.90L485.30,706.90A180.70,180.70 0 0 1 480.77,747.11Z" fill="#003a00" stroke="#000" stroke-width="1.5" stroke-linejoin="miter"/>
<path d="M304.60,706.90L460.47,781.96A173.00,173.00 0 0 1 439.86,814.76Z" fill="#003a00" stroke="#000" stroke-width="1.5" stroke-linejoin="miter"/>
<path d="M304.60,706.90L394.69,819.87A144.50,144.50 0 0 1 367.30,837.09Z" fill="#003a00" stroke="#000" stroke-width="1.5" stroke-linejoin="miter"/>
<path d="M304.60,706.90L304.60,897.20A190.30,190.30 0 0 1 262.25,892.43Z" fill="#003a00" stroke="#000" stroke-width="1.5" stroke-linejoin="miter"/>
<path d="M304.60,706.90L237.83,845.56A153.90,153.90 0 0 1 208.64,827.22Z" fill="#003a00" stroke="#000" stroke-width="1.5" stroke-linejoin="miter"/>
<path d="M304.60,706.90L177.40,808.34A162.70,162.70 0 0 1 158.01,777.49Z" fill="#003a00" stroke="#000" stroke-width="1.5" stroke-linejoin="miter"/>
<path d="M304.60,706.90L117.10,706.90A187.50,187.50 0 0 1 121.80,665.18Z" fill="#003a00" stroke="#000" stroke-width="1.5" stroke-linejoin="miter"/>
<path d="M304.60,706.90L147.38,631.19A174.50,174.50 0 0 1 168.17,598.10Z" fill="#003a00" stroke="#000" stroke-width="1.5" stroke-linejoin="miter"/>
<path d="M304.60,706.90L226.85,609.41A124.70,124.70 0 0 1 250.49,594.55Z" fill="#003a00" stroke="#000" stroke-width="1.5" stroke-linejoin="miter"/>
<text x="147.1" y="621.6" font-family="'DejaVu Sans', sans-serif" font-size="28" stroke="#000" stroke-width="0.8" text-anchor="middle">*</text>
<text x="474.4" y="614.6" font-family="'DejaVu Sans', sans-serif" font-size="28" stroke="#000" stroke-width="0.8" text-anchor="middle">*</text>
<text x="107.0" y="697.6" font-family="'DejaVu Sans', sans-serif" font-size="28" stroke="#000" stroke-width="0.8" text-anchor="middle">*</text>
<text x="494.6" y="742.9" font-family="'DejaVu Sans', sans-serif" font-size="28" stroke="#000" stroke-width="0.8" text-anchor="middle">*</text>
<text x="461.3" y="819.4" font-family="'DejaVu Sans', sans-serif" font-size="28" stroke="#000" stroke-width="0.8" text-anchor="middle">*</text>
<text x="280.6" y="922.2" font-family="'DejaVu Sans', sans-serif" font-size="28" stroke="#000" stroke-width="0.8" text-anchor="middle">*</text>
<circle cx="913.6" cy="706.9" r="163.8" fill="#a6a6a6"/>
<path d="M915.50,706.70L915.50,607.40A99.30,99.30 0 0 1 937.60,609.89Z" fill="#003a00" stroke="#000" stroke-width="1.5" stroke-linejoin="miter"/>
<path d="M915.50,706.70L966.05,601.74A116.50,116.50 0 0 1 988.14,615.62Z" fill="#003a00" stroke="#000" stroke-width="1.5" stroke-linejoin="miter"/>
<path d="M915.50,706.70L1044.19,604.07A164.60,164.60 0 0 1 1063.80,635.28Z" fill="#003a00" stroke="#000" stroke-width="1.5" stroke-linejoin="miter"/>
<path d="M915.50,706.70L1062.20,706.70A146.70,146.70 0 0 1 1058.52,739.34Z" fill="#003a00" stroke="#000" stroke-width="1.5" stroke-linejoin="miter"/>
<path d="M915.50,706.70L1078.58,785.23A181.00,181.00 0 0 1 1057.01,819.55Z" fill="#003a00" stroke="#000" stroke-width="1.5" stroke-linejoin="miter"/>
<path d="M915.50,706.70L1040.82,863.85A201.00,201.00 0 0 1 1002.71,887.79Z" fill="#003a00" stroke="#000" stroke-width="1.5" stroke-linejoin="miter"/>
<path d="M915.50,706.70L915.50,933.70A227.00,227.00 0 0 1 864.99,928.01Z" fill="#003a00" stroke="#000" stroke-width="1.5" stroke-linejoin="miter"/>
<path d="M915.50,706.70L816.14,913.02A229.00,229.00 0 0 1 772.72,885.74Z" fill="#003a00" stroke="#000" stroke-width="1.5" stroke-linejoin="miter"/>
<path d="M915.50,706.70L803.31,796.17A143.50,143.50 0 0 1 786.21,768.96Z" fill="#003a00" stroke="#000" stroke-width="1.5" stroke-linejoin="miter"/>
<path d="M915.50,706.70L666.60,706.70A248.90,248.90 0 0 1 672.84,651.31Z" fill="#003a00" stroke="#000" stroke-width="1.5" stroke-linejoin="miter"/>
<path d="M915.50,706.70L713.32,609.34A224.40,224.40 0 0 1 740.06,566.79Z" fill="#003a00" stroke="#000" stroke-width="1.5" stroke-linejoin="miter"/>
<path d="M915.50,706.70L835.07,605.84A129.00,129.00 0 0 1 859.53,590.48Z" fill="#003a00" stroke="#000" stroke-width="1.5" stroke-linejoin="miter"/>
<text x="715.7" y="592.9" font-family="'DejaVu Sans', sans-serif" font-size="28" stroke="#000" stroke-width="0.8" text-anchor="middle">*</text>
<text x="1063.0" y="626.6" font-family="'DejaVu Sans', sans-serif" font-size="28" stroke="#000" stroke-width="0.8" text-anchor="middle">*</text>
<text x="656.5" y="691.1" font-family="'DejaVu Sans', sans-serif" font-size="28" stroke="#000" stroke-width="0.8" text-anchor="middle">*</text>
<text x="1078.9" y="823.1" font-family="'DejaVu Sans', sans-serif" font-size="28" stroke="#000" stroke-width="0.8" text-anchor="middle">*</text>
<text x="1029.3" y="901.0" font-family="'DejaVu Sans', sans-serif" font-size="28" stroke="#000" stroke-width="0.8" text-anchor="middle">*</text>
<text x="785.0" y="922.6" font-family="'DejaVu Sans', sans-serif" font-size="28" stroke="#000" stroke-width="0.8" text-anchor="middle">*</text>
<text x="889.8" y="960.1" font-family="'DejaVu Sans', sans-serif" font-size="28" stroke="#000" stroke-width="0.8" text-anchor="middle">*</text>
<circle cx="1430.8" cy="706.9" r="163.8" fill="#a6a6a6"/>
<path d="M1432.60,707.10L1432.60,599.30A107.80,107.80 0 0 1 1456.59,602.00Z" fill="#003a00" stroke="#000" stroke-width="1.5" stroke-linejoin="miter"/>
<path d="M1432.60,707.10L1477.03,614.84A102.40,102.40 0 0 1 1496.45,627.04Z" fill="#003a00" stroke="#000" stroke-width="1.5" stroke-linejoin="miter"/>
<path d="M1432.60,707.10L1517.43,639.45A108.50,108.50 0 0 1 1530.36,660.02Z" fill="#003a00" stroke="#000" stroke-width="1.5" stroke-linejoin="miter"/>
<path d="M1432.60,707.10L1645.00,707.10A212.40,212.40 0 0 1 1639.67,754.36Z" fill="#003a00" stroke="#000" stroke-width="1.5" stroke-linejoin="miter"/>
<path d="M1432.60,707.10L1641.62,807.76A232.00,232.00 0 0 1 1613.98,851.75Z" fill="#003a00" stroke="#000" stroke-width="1.5" stroke-linejoin="miter"/>
<path d="M1432.60,707.10L1528.56,827.42A153.90,153.90 0 0 1 1499.37,845.76Z" fill="#003a00" stroke="#000" stroke-width="1.5" stroke-linejoin="miter"/>
<path d="M1432.60,707.10L1432.60,885.60A178.50,178.50 0 0 1 1392.88,881.12Z" fill="#003a00" stroke="#000" stroke-width="1.5" stroke-linejoin="miter"/>
<path d="M1432.60,707.10L1355.37,867.47A178.00,178.00 0 0 1 1321.62,846.27Z" fill="#003a00" stroke="#000" stroke-width="1.5" stroke-linejoin="miter"/>
<path d="M1432.60,707.10L1302.82,810.60A166.00,166.00 0 0 1 1283.04,779.12Z" fill="#003a00" stroke="#000" stroke-width="1.5" stroke-linejoin="miter"/>
<path d="M1432.60,707.10L1233.80,707.10A198.80,198.80 0 0 1 1238.78,662.86Z" fill="#003a00" stroke="#000" stroke-width="1.5" stroke-linejoin="miter"/>
<path d="M1432.60,707.10L1267.27,627.48A183.50,183.50 0 0 1 1289.13,592.69Z" fill="#003a00" stroke="#000" stroke-width="1.5" stroke-linejoin="miter"/>
<path d="M1432.60,707.10L1290.44,528.84A228.00,228.00 0 0 1 1333.67,501.68Z" fill="#003a00" stroke="#000" stroke-width="1.5" stroke-linejoin="miter"/>
<text x="1307.3" y="517.0" font-family="'DejaVu Sans', sans-serif" font-size="28" stroke="#000" stroke-width="0.8" text-anchor="middle">*</text>
<text x="1267.8" y="615.8" font-family="'DejaVu Sans', sans-serif" font-size="28" stroke="#000" stroke-width="0.8" text-anchor="middle">*</text>
<text x="1225.5" y="696.1" font-family="'DejaVu Sans', sans-serif" font-size="28" stroke="#000" stroke-width="0.8" text-anchor="middle">*</text>
<text x="1655.0" y="745.5" font-family="'DejaVu Sans', sans-serif" font-size="28" stroke="#000" stroke-width="0.8" text-anchor="middle">*</text>
<text x="1638.7" y="849.9" font-family="'DejaVu Sans', sans-serif" font-size="28" stroke="#000" stroke-width="0.8" text-anchor="middle">*</text>
<text x="1330.7" y="880.9" font-family="'DejaVu Sans', sans-serif" font-size="28" stroke="#000" stroke-width="0.8" text-anchor="middle">*</text>
<text x="1410.8" y="909.1" font-family="'DejaVu Sans', sans-serif" font-size="28" stroke="#000" stroke-width="0.8" text-anchor="middle">*</text>
<rect x="15.3" y="150.3" width="48.9" height="316.2" fill="#fff" stroke="#000" stroke-width="1.8"/>
<text transform="translate(49.8,308.4) rotate(-90)" font-family="'Liberation Sans', Arial, sans-serif" text-anchor="middle"><tspan font-size="28" dy="0">9</tspan><tspan font-size="19" dy="-9">Mths</tspan><tspan font-size="28" dy="9">-1</tspan><tspan font-size="19" dy="-9">Yr</tspan></text>
<rect x="563.7" y="150.3" width="49.1" height="316.2" fill="#fff" stroke="#000" stroke-width="1.8"/>
<text transform="translate(598.2,308.4) rotate(-90)" font-family="'Liberation Sans', Arial, sans-serif" text-anchor="middle"><tspan font-size="28" dy="0">2</tspan><tspan font-size="19" dy="-9">Yrs</tspan></text>
<rect x="1143.7" y="150.3" width="49.1" height="316.2" fill="#fff" stroke="#000" stroke-width="1.8"/>
<text transform="translate(1178.2,308.4) rotate(-90)" font-family="'Liberation Sans', Arial, sans-serif" text-anchor="middle"><tspan font-size="28" dy="0">3-4</tspan><tspan font-size="19" dy="-9">Yrs</tspan></text>
<rect x="15.3" y="568.7" width="48.9" height="315.5" fill="#fff" stroke="#000" stroke-width="1.8"/>
<text transform="translate(49.8,726.5) rotate(-90)" font-family="'Liberation Sans', Arial, sans-serif" text-anchor="middle"><tspan font-size="28" dy="0">5-7</tspan><tspan font-size="19" dy="-9">Yrs</tspan></text>
<rect x="563.7" y="568.7" width="49.1" height="315.5" fill="#fff" stroke="#000" stroke-width="1.8"/>
<text transform="translate(598.2,726.5) rotate(-90)" font-family="'Liberation Sans', Arial, sans-serif" text-anchor="middle"><tspan font-size="28" dy="0">8-10</tspan><tspan font-size="19" dy="-9">Yrs</tspan></text>
<rect x="1143.7" y="568.7" width="49.1" height="315.5" fill="#fff" stroke="#000" stroke-width="1.8"/>
<text transform="translate(1178.2,726.5) rotate(-90)" font-family="'Liberation Sans', Arial, sans-serif" text-anchor="middle"><tspan font-size="28" dy="0">11-18</tspan><tspan font-size="19" dy="-9">Yrs</tspan></text>
<circle cx="1835.6" cy="252.2" r="53.6" fill="#a6a6a6"/>
<line x1="1835.6" y1="252.2" x2="1845.1" y2="167.7" stroke="#000" stroke-width="1.6"/>
<text transform="translate(1846.2,157.8) rotate(-83.57)" font-family="'Liberation Sans', Arial, sans-serif" font-size="22" text-anchor="start" dominant-baseline="central">NCD4</text>
<line x1="1835.6" y1="252.2" x2="1880.8" y2="180.2" stroke="#000" stroke-width="1.6"/>
<text transform="translate(1886.1,171.8) rotate(-57.86)" font-family="'Liberation Sans', Arial, sans-serif" font-size="22" text-anchor="start" dominant-baseline="central">NCD8</text>
<line x1="1835.6" y1="252.2" x2="1907.6" y2="207.0" stroke="#000" stroke-width="1.6"/>
<text transform="translate(1916.0,201.7) rotate(-32.14)" font-family="'Liberation Sans', Arial, sans-serif" font-size="22" text-anchor="start" dominant-baseline="central">NCD19</text>
<line x1="1835.6" y1="252.2" x2="1920.1" y2="261.7" stroke="#000" stroke-width="1.6"/>
<text transform="translate(1930.0,262.8) rotate(6.43)" font-family="'Liberation Sans', Arial, sans-serif" font-size="22" text-anchor="start" dominant-baseline="central">eEFCD4</text>
<line x1="1835.6" y1="252.2" x2="1907.6" y2="297.4" stroke="#000" stroke-width="1.6"/>
<text transform="translate(1916.0,302.7) rotate(32.14)" font-family="'Liberation Sans', Arial, sans-serif" font-size="22" text-anchor="start" dominant-baseline="central">eEFCD8</text>
<line x1="1835.6" y1="252.2" x2="1880.8" y2="324.2" stroke="#000" stroke-width="1.6"/>
<text transform="translate(1886.1,332.6) rotate(57.86)" font-family="'Liberation Sans', Arial, sans-serif" font-size="22" text-anchor="start" dominant-baseline="central">eEFCD19</text>
<line x1="1835.6" y1="252.2" x2="1826.1" y2="336.7" stroke="#000" stroke-width="1.6"/>
<text transform="translate(1825.0,346.6) rotate(-83.57)" font-family="'Liberation Sans', Arial, sans-serif" font-size="22" text-anchor="end" dominant-baseline="central">CMCD4</text>
<line x1="1835.6" y1="252.2" x2="1790.4" y2="324.2" stroke="#000" stroke-width="1.6"/>
<text transform="translate(1785.1,332.6) rotate(-57.86)" font-family="'Liberation Sans', Arial, sans-serif" font-size="22" text-anchor="end" dominant-baseline="central">CMCD8</text>
<line x1="1835.6" y1="252.2" x2="1763.6" y2="297.4" stroke="#000" stroke-width="1.6"/>
<text transform="translate(1755.2,302.7) rotate(-32.14)" font-family="'Liberation Sans', Arial, sans-serif" font-size="22" text-anchor="end" dominant-baseline="central">nCMCD19</text>
<line x1="1835.6" y1="252.2" x2="1751.1" y2="242.7" stroke="#000" stroke-width="1.6"/>
<text transform="translate(1741.2,241.6) rotate(6.43)" font-family="'Liberation Sans', Arial, sans-serif" font-size="22" text-anchor="end" dominant-baseline="central">EMCD4</text>
<line x1="1835.6" y1="252.2" x2="1763.6" y2="207.0" stroke="#000" stroke-width="1.6"/>
<text transform="translate(1755.2,201.7) rotate(32.14)" font-family="'Liberation Sans', Arial, sans-serif" font-size="22" text-anchor="end" dominant-baseline="central">EMCD8</text>
<line x1="1835.6" y1="252.2" x2="1790.4" y2="180.2" stroke="#000" stroke-width="1.6"/>
<text transform="translate(1785.1,171.8) rotate(57.86)" font-family="'Liberation Sans', Arial, sans-serif" font-size="22" text-anchor="end" dominant-baseline="central">CMCD19</text>
<text x="1811.7" y="481.5" font-family="'Liberation Sans', Arial, sans-serif" font-size="20" text-anchor="middle" textLength="206" lengthAdjust="spacingAndGlyphs">Proportion of Subjects</text>
<text x="1811.2" y="508.7" font-family="'Liberation Sans', Arial, sans-serif" font-size="20" text-anchor="middle" textLength="341" lengthAdjust="spacingAndGlyphs">Above the Global Median Cut-off (%)</text>
<text x="1728.8" y="560.5" font-family="'Liberation Sans', Arial, sans-serif" font-size="19" text-anchor="middle">0</text>
<text x="1833.8" y="556" font-family="'Liberation Sans', Arial, sans-serif" font-size="19" text-anchor="middle">50</text>
<text x="1939.6" y="560" font-family="'Liberation Sans', Arial, sans-serif" font-size="19" text-anchor="middle">90</text>
<polygon points="1728.5,589.9 1837.3,566.7 1837.3,613.9" fill="#cccccc" stroke="#808080" stroke-width="1"/>
<path d="M1727.5,576.1V589.9H1945.7V576.1M1836.9,576.1V589.9" fill="none" stroke="#000" stroke-width="1.5"/>
<line x1="1803" y1="657.5" x2="1803" y2="916.7" stroke="#000" stroke-width="1.3"/>
<text transform="translate(1781,781) rotate(-90)" font-family="'Liberation Sans', Arial, sans-serif" font-size="20" font-style="italic" text-anchor="middle" textLength="86" lengthAdjust="spacingAndGlyphs">Color Key</text>
<text transform="translate(1832.5,781.7) rotate(-90)" font-family="'Liberation Sans', Arial, sans-serif" font-size="13" font-style="italic" text-anchor="middle" textLength="107" lengthAdjust="spacingAndGlyphs">% of gated cells</text>
<linearGradient id="keyg" x1="0" y1="0" x2="0" y2="1"><stop offset="0" stop-color="#003800"/><stop offset="0.466" stop-color="#003a00"/><stop offset="0.49" stop-color="#006600"/><stop offset="0.55" stop-color="#008800"/><stop offset="0.66" stop-color="#009600"/><stop offset="0.75" stop-color="#33b52a"/><stop offset="0.85" stop-color="#6ee050"/><stop offset="0.93" stop-color="#99ff66"/><stop offset="1" stop-color="#9dff6a"/></linearGradient>
<pattern id="keyst" x="0" y="682" width="23" height="5" patternUnits="userSpaceOnUse"><rect x="0" y="0" width="23" height="1" fill="#ffffff" fill-opacity="0.16"/></pattern>
<rect x="1852.8" y="680.1" width="23" height="216.7" fill="url(#keyg)"/>
<rect x="1852.8" y="680.1" width="23" height="216.7" fill="url(#keyst)"/>
<path d="M1897.6,682.3H1887.1V894.5H1897.6M1887.1,784.5H1897.6" fill="none" stroke="#000" stroke-width="1.5"/>
<text x="1903.6" y="687.6" font-family="'Liberation Sans', Arial, sans-serif" font-size="16" textLength="33.5" lengthAdjust="spacingAndGlyphs">Max</text>
<text x="1903.6" y="789.5" font-family="'Liberation Sans', Arial, sans-serif" font-size="16" textLength="117.6" lengthAdjust="spacingAndGlyphs">Global Median</text>
<text x="1903.6" y="899.8" font-family="'Liberation Sans', Arial, sans-serif" font-size="16" textLength="30" lengthAdjust="spacingAndGlyphs">Min</text>
<path d="M77.4,1021.1H93.5M77.4,1223.2H93.5M93.5,1021.1V1425.8" fill="none" stroke="#000" stroke-width="2"/>
<text x="71" y="1028" font-family="'Liberation Sans', Arial, sans-serif" font-size="20" text-anchor="end">100</text>
<text x="71" y="1230" font-family="'Liberation Sans', Arial, sans-serif" font-size="20" text-anchor="end">50</text>
<text x="71" y="1433" font-family="'Liberation Sans', Arial, sans-serif" font-size="20" text-anchor="end">0</text>
<text transform="translate(15.5,1223) rotate(-90)" font-family="'Liberation Sans', Arial, sans-serif" font-size="18" text-anchor="middle" textLength="374" lengthAdjust="spacingAndGlyphs">Equalized Distribution of Subjects with Results</text>
<text transform="translate(37.5,1224.7) rotate(-90)" font-family="'Liberation Sans', Arial, sans-serif" font-size="18" text-anchor="middle" textLength="297" lengthAdjust="spacingAndGlyphs">Above the Global Median Cut-off (%)</text>
<rect x="107.70" y="1013.6" width="22.30" height="404.4" fill="url(#g0_0)"/>
<rect x="107.70" y="1013.6" width="22.00" height="404.4" fill="url(#st0)"/>
<rect x="129.70" y="1013.6" width="21.00" height="404.4" fill="url(#g0_1)"/>
<rect x="129.70" y="1013.6" width="20.70" height="404.4" fill="url(#st1)"/>
<rect x="129.30" y="1013.6" width="0.8" height="404.4" fill="#ffffff" fill-opacity="0.06"/>
<rect x="150.40" y="1013.6" width="21.00" height="404.4" fill="url(#g0_2)"/>
<rect x="150.40" y="1013.6" width="20.70" height="404.4" fill="url(#st2)"/>
<rect x="150.00" y="1013.6" width="0.8" height="404.4" fill="#ffffff" fill-opacity="0.06"/>
<rect x="171.10" y="1013.6" width="21.00" height="404.4" fill="url(#g0_3)"/>
<rect x="171.10" y="1013.6" width="20.70" height="404.4" fill="url(#st3)"/>
<rect x="170.70" y="1013.6" width="0.8" height="404.4" fill="#ffffff" fill-opacity="0.06"/>
<rect x="191.80" y="1013.6" width="21.00" height="404.4" fill="url(#g0_4)"/>
<rect x="191.80" y="1013.6" width="20.70" height="404.4" fill="url(#st4)"/>
<rect x="191.40" y="1013.6" width="0.8" height="404.4" fill="#ffffff" fill-opacity="0.06"/>
<rect x="212.50" y="1013.6" width="21.00" height="404.4" fill="url(#g0_5)"/>
<rect x="212.50" y="1013.6" width="20.70" height="404.4" fill="url(#st0)"/>
<rect x="212.10" y="1013.6" width="0.8" height="404.4" fill="#ffffff" fill-opacity="0.06"/>
<rect x="107.70" y="1222.2" width="125.5" height="2" fill="#ffffff"/>
<text x="170.4" y="998" font-family="'Liberation Sans', Arial, sans-serif" font-size="28" text-anchor="middle">NCD4</text>
<line x1="77.4" y1="1425.8" x2="237.8" y2="1425.8" stroke="#000" stroke-width="2"/>
<text transform="translate(121.9,1433) rotate(-90)" font-family="'Liberation Sans', Arial, sans-serif" text-anchor="end" textLength="57" lengthAdjust="spacingAndGlyphs"><tspan font-size="16" dy="0">9</tspan><tspan font-size="11" dy="-5">Mths</tspan><tspan font-size="16" dy="5">-1</tspan><tspan font-size="11" dy="-5">Yr</tspan></text>
<text transform="translate(143.2,1433) rotate(-90)" font-family="'Liberation Sans', Arial, sans-serif" text-anchor="end" textLength="21" lengthAdjust="spacingAndGlyphs"><tspan font-size="16" dy="0">2</tspan><tspan font-size="11" dy="-5">Yrs</tspan></text>
<text transform="translate(164.5,1433) rotate(-90)" font-family="'Liberation Sans', Arial, sans-serif" text-anchor="end" textLength="35" lengthAdjust="spacingAndGlyphs"><tspan font-size="16" dy="0">3-4</tspan><tspan font-size="11" dy="-5">Yrs</tspan></text>
<text transform="translate(185.7,1433) rotate(-90)" font-family="'Liberation Sans', Arial, sans-serif" text-anchor="end" textLength="35" lengthAdjust="spacingAndGlyphs"><tspan font-size="16" dy="0">5-8</tspan><tspan font-size="11" dy="-5">Yrs</tspan></text>
<text transform="translate(207.0,1433) rotate(-90)" font-family="'Liberation Sans', Arial, sans-serif" text-anchor="end" textLength="44" lengthAdjust="spacingAndGlyphs"><tspan font-size="16" dy="0">8-10</tspan><tspan font-size="11" dy="-5">Yrs</tspan></text>
<text transform="translate(228.3,1433) rotate(-90)" font-family="'Liberation Sans', Arial, sans-serif" text-anchor="end" textLength="53" lengthAdjust="spacingAndGlyphs"><tspan font-size="16" dy="0">11-18</tspan><tspan font-size="11" dy="-5">Yrs</tspan></text>
<rect x="269.90" y="1013.6" width="22.30" height="404.4" fill="url(#g1_0)"/>
<rect x="269.90" y="1013.6" width="22.00" height="404.4" fill="url(#st1)"/>
<rect x="291.90" y="1013.6" width="21.00" height="404.4" fill="url(#g1_1)"/>
<rect x="291.90" y="1013.6" width="20.70" height="404.4" fill="url(#st2)"/>
<rect x="291.50" y="1013.6" width="0.8" height="404.4" fill="#ffffff" fill-opacity="0.06"/>
<rect x="312.60" y="1013.6" width="21.00" height="404.4" fill="url(#g1_2)"/>
<rect x="312.60" y="1013.6" width="20.70" height="404.4" fill="url(#st3)"/>
<rect x="312.20" y="1013.6" width="0.8" height="404.4" fill="#ffffff" fill-opacity="0.06"/>
<rect x="333.30" y="1013.6" width="21.00" height="404.4" fill="url(#g1_3)"/>
<rect x="333.30" y="1013.6" width="20.70" height="404.4" fill="url(#st4)"/>
<rect x="332.90" y="1013.6" width="0.8" height="404.4" fill="#ffffff" fill-opacity="0.06"/>
<rect x="354.00" y="1013.6" width="21.00" height="404.4" fill="url(#g1_4)"/>
<rect x="354.00" y="1013.6" width="20.70" height="404.4" fill="url(#st0)"/>
<rect x="353.60" y="1013.6" width="0.8" height="404.4" fill="#ffffff" fill-opacity="0.06"/>
<rect x="374.70" y="1013.6" width="21.00" height="404.4" fill="url(#g1_5)"/>
<rect x="374.70" y="1013.6" width="20.70" height="404.4" fill="url(#st1)"/>
<rect x="374.30" y="1013.6" width="0.8" height="404.4" fill="#ffffff" fill-opacity="0.06"/>
<rect x="269.90" y="1222.2" width="125.5" height="2" fill="#ffffff"/>
<text x="332.6" y="998" font-family="'Liberation Sans', Arial, sans-serif" font-size="28" text-anchor="middle">NCD8</text>
<line x1="256.4" y1="1425.8" x2="403.0" y2="1425.8" stroke="#000" stroke-width="2"/>
<text transform="translate(284.1,1433) rotate(-90)" font-family="'Liberation Sans', Arial, sans-serif" text-anchor="end" textLength="57" lengthAdjust="spacingAndGlyphs"><tspan font-size="16" dy="0">9</tspan><tspan font-size="11" dy="-5">Mths</tspan><tspan font-size="16" dy="5">-1</tspan><tspan font-size="11" dy="-5">Yr</tspan></text>
<text transform="translate(305.4,1433) rotate(-90)" font-family="'Liberation Sans', Arial, sans-serif" text-anchor="end" textLength="21" lengthAdjust="spacingAndGlyphs"><tspan font-size="16" dy="0">2</tspan><tspan font-size="11" dy="-5">Yrs</tspan></text>
<text transform="translate(326.7,1433) rotate(-90)" font-family="'Liberation Sans', Arial, sans-serif" text-anchor="end" textLength="35" lengthAdjust="spacingAndGlyphs"><tspan font-size="16" dy="0">3-4</tspan><tspan font-size="11" dy="-5">Yrs</tspan></text>
<text transform="translate(347.9,1433) rotate(-90)" font-family="'Liberation Sans', Arial, sans-serif" text-anchor="end" textLength="35" lengthAdjust="spacingAndGlyphs"><tspan font-size="16" dy="0">5-8</tspan><tspan font-size="11" dy="-5">Yrs</tspan></text>
<text transform="translate(369.2,1433) rotate(-90)" font-family="'Liberation Sans', Arial, sans-serif" text-anchor="end" textLength="44" lengthAdjust="spacingAndGlyphs"><tspan font-size="16" dy="0">8-10</tspan><tspan font-size="11" dy="-5">Yrs</tspan></text>
<text transform="translate(390.5,1433) rotate(-90)" font-family="'Liberation Sans', Arial, sans-serif" text-anchor="end" textLength="53" lengthAdjust="spacingAndGlyphs"><tspan font-size="16" dy="0">11-18</tspan><tspan font-size="11" dy="-5">Yrs</tspan></text>
<rect x="432.10" y="1013.6" width="22.30" height="404.4" fill="url(#g2_0)"/>
<rect x="432.10" y="1013.6" width="22.00" height="404.4" fill="url(#st2)"/>
<rect x="454.10" y="1013.6" width="21.00" height="404.4" fill="url(#g2_1)"/>
<rect x="454.10" y="1013.6" width="20.70" height="404.4" fill="url(#st3)"/>
<rect x="453.70" y="1013.6" width="0.8" height="404.4" fill="#ffffff" fill-opacity="0.06"/>
<rect x="474.80" y="1013.6" width="21.00" height="404.4" fill="url(#g2_2)"/>
<rect x="474.80" y="1013.6" width="20.70" height="404.4" fill="url(#st4)"/>
<rect x="474.40" y="1013.6" width="0.8" height="404.4" fill="#ffffff" fill-opacity="0.06"/>
<rect x="495.50" y="1013.6" width="21.00" height="404.4" fill="url(#g2_3)"/>
<rect x="495.50" y="1013.6" width="20.70" height="404.4" fill="url(#st0)"/>
<rect x="495.10" y="1013.6" width="0.8" height="404.4" fill="#ffffff" fill-opacity="0.06"/>
<rect x="516.20" y="1013.6" width="21.00" height="404.4" fill="url(#g2_4)"/>
<rect x="516.20" y="1013.6" width="20.70" height="404.4" fill="url(#st1)"/>
<rect x="515.80" y="1013.6" width="0.8" height="404.4" fill="#ffffff" fill-opacity="0.06"/>
<rect x="536.90" y="1013.6" width="21.00" height="404.4" fill="url(#g2_5)"/>
<rect x="536.90" y="1013.6" width="20.70" height="404.4" fill="url(#st2)"/>
<rect x="536.50" y="1013.6" width="0.8" height="404.4" fill="#ffffff" fill-opacity="0.06"/>
<rect x="432.10" y="1222.2" width="125.5" height="2" fill="#ffffff"/>
<text x="494.8" y="998" font-family="'Liberation Sans', Arial, sans-serif" font-size="28" text-anchor="middle">NCD19</text>
<line x1="420.8" y1="1425.8" x2="566.2" y2="1425.8" stroke="#000" stroke-width="2"/>
<text transform="translate(446.3,1433) rotate(-90)" font-family="'Liberation Sans', Arial, sans-serif" text-anchor="end" textLength="57" lengthAdjust="spacingAndGlyphs"><tspan font-size="16" dy="0">9</tspan><tspan font-size="11" dy="-5">Mths</tspan><tspan font-size="16" dy="5">-1</tspan><tspan font-size="11" dy="-5">Yr</tspan></text>
<text transform="translate(467.6,1433) rotate(-90)" font-family="'Liberation Sans', Arial, sans-serif" text-anchor="end" textLength="21" lengthAdjust="spacingAndGlyphs"><tspan font-size="16" dy="0">2</tspan><tspan font-size="11" dy="-5">Yrs</tspan></text>
<text transform="translate(488.9,1433) rotate(-90)" font-family="'Liberation Sans', Arial, sans-serif" text-anchor="end" textLength="35" lengthAdjust="spacingAndGlyphs"><tspan font-size="16" dy="0">3-4</tspan><tspan font-size="11" dy="-5">Yrs</tspan></text>
<text transform="translate(510.1,1433) rotate(-90)" font-family="'Liberation Sans', Arial, sans-serif" text-anchor="end" textLength="35" lengthAdjust="spacingAndGlyphs"><tspan font-size="16" dy="0">5-8</tspan><tspan font-size="11" dy="-5">Yrs</tspan></text>
<text transform="translate(531.4,1433) rotate(-90)" font-family="'Liberation Sans', Arial, sans-serif" text-anchor="end" textLength="44" lengthAdjust="spacingAndGlyphs"><tspan font-size="16" dy="0">8-10</tspan><tspan font-size="11" dy="-5">Yrs</tspan></text>
<text transform="translate(552.7,1433) rotate(-90)" font-family="'Liberation Sans', Arial, sans-serif" text-anchor="end" textLength="53" lengthAdjust="spacingAndGlyphs"><tspan font-size="16" dy="0">11-18</tspan><tspan font-size="11" dy="-5">Yrs</tspan></text>
<rect x="594.30" y="1013.6" width="22.30" height="404.4" fill="url(#g3_0)"/>
<rect x="594.30" y="1013.6" width="22.00" height="404.4" fill="url(#st3)"/>
<rect x="616.30" y="1013.6" width="21.00" height="404.4" fill="url(#g3_1)"/>
<rect x="616.30" y="1013.6" width="20.70" height="404.4" fill="url(#st4)"/>
<rect x="615.90" y="1013.6" width="0.8" height="404.4" fill="#ffffff" fill-opacity="0.06"/>
<rect x="637.00" y="1013.6" width="21.00" height="404.4" fill="url(#g3_2)"/>
<rect x="637.00" y="1013.6" width="20.70" height="404.4" fill="url(#st0)"/>
<rect x="636.60" y="1013.6" width="0.8" height="404.4" fill="#ffffff" fill-opacity="0.06"/>
<rect x="657.70" y="1013.6" width="21.00" height="404.4" fill="url(#g3_3)"/>
<rect x="657.70" y="1013.6" width="20.70" height="404.4" fill="url(#st1)"/>
<rect x="657.30" y="1013.6" width="0.8" height="404.4" fill="#ffffff" fill-opacity="0.06"/>
<rect x="678.40" y="1013.6" width="21.00" height="404.4" fill="url(#g3_4)"/>
<rect x="678.40" y="1013.6" width="20.70" height="404.4" fill="url(#st2)"/>
<rect x="678.00" y="1013.6" width="0.8" height="404.4" fill="#ffffff" fill-opacity="0.06"/>
<rect x="699.10" y="1013.6" width="21.00" height="404.4" fill="url(#g3_5)"/>
<rect x="699.10" y="1013.6" width="20.70" height="404.4" fill="url(#st3)"/>
<rect x="698.70" y="1013.6" width="0.8" height="404.4" fill="#ffffff" fill-opacity="0.06"/>
<rect x="594.30" y="1222.2" width="125.5" height="2" fill="#ffffff"/>
<text x="657.0" y="998" font-family="'Liberation Sans', Arial, sans-serif" font-size="28" text-anchor="middle">eEFCD4</text>
<line x1="576.2" y1="1425.8" x2="721.6" y2="1425.8" stroke="#000" stroke-width="2"/>
<text transform="translate(608.5,1433) rotate(-90)" font-family="'Liberation Sans', Arial, sans-serif" text-anchor="end" textLength="57" lengthAdjust="spacingAndGlyphs"><tspan font-size="16" dy="0">9</tspan><tspan font-size="11" dy="-5">Mths</tspan><tspan font-size="16" dy="5">-1</tspan><tspan font-size="11" dy="-5">Yr</tspan></text>
<text transform="translate(629.8,1433) rotate(-90)" font-family="'Liberation Sans', Arial, sans-serif" text-anchor="end" textLength="21" lengthAdjust="spacingAndGlyphs"><tspan font-size="16" dy="0">2</tspan><tspan font-size="11" dy="-5">Yrs</tspan></text>
<text transform="translate(651.1,1433) rotate(-90)" font-family="'Liberation Sans', Arial, sans-serif" text-anchor="end" textLength="35" lengthAdjust="spacingAndGlyphs"><tspan font-size="16" dy="0">3-4</tspan><tspan font-size="11" dy="-5">Yrs</tspan></text>
<text transform="translate(672.3,1433) rotate(-90)" font-family="'Liberation Sans', Arial, sans-serif" text-anchor="end" textLength="35" lengthAdjust="spacingAndGlyphs"><tspan font-size="16" dy="0">5-8</tspan><tspan font-size="11" dy="-5">Yrs</tspan></text>
<text transform="translate(693.6,1433) rotate(-90)" font-family="'Liberation Sans', Arial, sans-serif" text-anchor="end" textLength="44" lengthAdjust="spacingAndGlyphs"><tspan font-size="16" dy="0">8-10</tspan><tspan font-size="11" dy="-5">Yrs</tspan></text>
<text transform="translate(714.9,1433) rotate(-90)" font-family="'Liberation Sans', Arial, sans-serif" text-anchor="end" textLength="53" lengthAdjust="spacingAndGlyphs"><tspan font-size="16" dy="0">11-18</tspan><tspan font-size="11" dy="-5">Yrs</tspan></text>
<rect x="756.50" y="1013.6" width="22.30" height="404.4" fill="url(#g4_0)"/>
<rect x="756.50" y="1013.6" width="22.00" height="404.4" fill="url(#st4)"/>
<rect x="778.50" y="1013.6" width="21.00" height="404.4" fill="url(#g4_1)"/>
<rect x="778.50" y="1013.6" width="20.70" height="404.4" fill="url(#st0)"/>
<rect x="778.10" y="1013.6" width="0.8" height="404.4" fill="#ffffff" fill-opacity="0.06"/>
<rect x="799.20" y="1013.6" width="21.00" height="404.4" fill="url(#g4_2)"/>
<rect x="799.20" y="1013.6" width="20.70" height="404.4" fill="url(#st1)"/>
<rect x="798.80" y="1013.6" width="0.8" height="404.4" fill="#ffffff" fill-opacity="0.06"/>
<rect x="819.90" y="1013.6" width="21.00" height="404.4" fill="url(#g4_3)"/>
<rect x="819.90" y="1013.6" width="20.70" height="404.4" fill="url(#st2)"/>
<rect x="819.50" y="1013.6" width="0.8" height="404.4" fill="#ffffff" fill-opacity="0.06"/>
<rect x="840.60" y="1013.6" width="21.00" height="404.4" fill="url(#g4_4)"/>
<rect x="840.60" y="1013.6" width="20.70" height="404.4" fill="url(#st3)"/>
<rect x="840.20" y="1013.6" width="0.8" height="404.4" fill="#ffffff" fill-opacity="0.06"/>
<rect x="861.30" y="1013.6" width="21.00" height="404.4" fill="url(#g4_5)"/>
<rect x="861.30" y="1013.6" width="20.70" height="404.4" fill="url(#st4)"/>
<rect x="860.90" y="1013.6" width="0.8" height="404.4" fill="#ffffff" fill-opacity="0.06"/>
<rect x="756.50" y="1222.2" width="125.5" height="2" fill="#ffffff"/>
<text x="819.2" y="998" font-family="'Liberation Sans', Arial, sans-serif" font-size="28" text-anchor="middle">eEFCD8</text>
<line x1="740.0" y1="1425.8" x2="885.5" y2="1425.8" stroke="#000" stroke-width="2"/>
<text transform="translate(770.7,1433) rotate(-90)" font-family="'Liberation Sans', Arial, sans-serif" text-anchor="end" textLength="57" lengthAdjust="spacingAndGlyphs"><tspan font-size="16" dy="0">9</tspan><tspan font-size="11" dy="-5">Mths</tspan><tspan font-size="16" dy="5">-1</tspan><tspan font-size="11" dy="-5">Yr</tspan></text>
<text transform="translate(792.0,1433) rotate(-90)" font-family="'Liberation Sans', Arial, sans-serif" text-anchor="end" textLength="21" lengthAdjust="spacingAndGlyphs"><tspan font-size="16" dy="0">2</tspan><tspan font-size="11" dy="-5">Yrs</tspan></text>
<text transform="translate(813.3,1433) rotate(-90)" font-family="'Liberation Sans', Arial, sans-serif" text-anchor="end" textLength="35" lengthAdjust="spacingAndGlyphs"><tspan font-size="16" dy="0">3-4</tspan><tspan font-size="11" dy="-5">Yrs</tspan></text>
<text transform="translate(834.5,1433) rotate(-90)" font-family="'Liberation Sans', Arial, sans-serif" text-anchor="end" textLength="35" lengthAdjust="spacingAndGlyphs"><tspan font-size="16" dy="0">5-8</tspan><tspan font-size="11" dy="-5">Yrs</tspan></text>
<text transform="translate(855.8,1433) rotate(-90)" font-family="'Liberation Sans', Arial, sans-serif" text-anchor="end" textLength="44" lengthAdjust="spacingAndGlyphs"><tspan font-size="16" dy="0">8-10</tspan><tspan font-size="11" dy="-5">Yrs</tspan></text>
<text transform="translate(877.1,1433) rotate(-90)" font-family="'Liberation Sans', Arial, sans-serif" text-anchor="end" textLength="53" lengthAdjust="spacingAndGlyphs"><tspan font-size="16" dy="0">11-18</tspan><tspan font-size="11" dy="-5">Yrs</tspan></text>
<rect x="918.70" y="1013.6" width="22.30" height="404.4" fill="url(#g5_0)"/>
<rect x="918.70" y="1013.6" width="22.00" height="404.4" fill="url(#st0)"/>
<rect x="940.70" y="1013.6" width="21.00" height="404.4" fill="url(#g5_1)"/>
<rect x="940.70" y="1013.6" width="20.70" height="404.4" fill="url(#st1)"/>
<rect x="940.30" y="1013.6" width="0.8" height="404.4" fill="#ffffff" fill-opacity="0.06"/>
<rect x="961.40" y="1013.6" width="21.00" height="404.4" fill="url(#g5_2)"/>
<rect x="961.40" y="1013.6" width="20.70" height="404.4" fill="url(#st2)"/>
<rect x="961.00" y="1013.6" width="0.8" height="404.4" fill="#ffffff" fill-opacity="0.06"/>
<rect x="982.10" y="1013.6" width="21.00" height="404.4" fill="url(#g5_3)"/>
<rect x="982.10" y="1013.6" width="20.70" height="404.4" fill="url(#st3)"/>
<rect x="981.70" y="1013.6" width="0.8" height="404.4" fill="#ffffff" fill-opacity="0.06"/>
<rect x="1002.80" y="1013.6" width="21.00" height="404.4" fill="url(#g5_4)"/>
<rect x="1002.80" y="1013.6" width="20.70" height="404.4" fill="url(#st4)"/>
<rect x="1002.40" y="1013.6" width="0.8" height="404.4" fill="#ffffff" fill-opacity="0.06"/>
<rect x="1023.50" y="1013.6" width="21.00" height="404.4" fill="url(#g5_5)"/>
<rect x="1023.50" y="1013.6" width="20.70" height="404.4" fill="url(#st0)"/>
<rect x="1023.10" y="1013.6" width="0.8" height="404.4" fill="#ffffff" fill-opacity="0.06"/>
<rect x="918.70" y="1222.2" width="125.5" height="2" fill="#ffffff"/>
<text x="981.5" y="998" font-family="'Liberation Sans', Arial, sans-serif" font-size="28" text-anchor="middle">eEFCD19</text>
<line x1="899.0" y1="1425.8" x2="1044.4" y2="1425.8" stroke="#000" stroke-width="2"/>
<text transform="translate(932.9,1433) rotate(-90)" font-family="'Liberation Sans', Arial, sans-serif" text-anchor="end" textLength="57" lengthAdjust="spacingAndGlyphs"><tspan font-size="16" dy="0">9</tspan><tspan font-size="11" dy="-5">Mths</tspan><tspan font-size="16" dy="5">-1</tspan><tspan font-size="11" dy="-5">Yr</tspan></text>
<text transform="translate(954.2,1433) rotate(-90)" font-family="'Liberation Sans', Arial, sans-serif" text-anchor="end" textLength="21" lengthAdjust="spacingAndGlyphs"><tspan font-size="16" dy="0">2</tspan><tspan font-size="11" dy="-5">Yrs</tspan></text>
<text transform="translate(975.5,1433) rotate(-90)" font-family="'Liberation Sans', Arial, sans-serif" text-anchor="end" textLength="35" lengthAdjust="spacingAndGlyphs"><tspan font-size="16" dy="0">3-4</tspan><tspan font-size="11" dy="-5">Yrs</tspan></text>
<text transform="translate(996.7,1433) rotate(-90)" font-family="'Liberation Sans', Arial, sans-serif" text-anchor="end" textLength="35" lengthAdjust="spacingAndGlyphs"><tspan font-size="16" dy="0">5-8</tspan><tspan font-size="11" dy="-5">Yrs</tspan></text>
<text transform="translate(1018.0,1433) rotate(-90)" font-family="'Liberation Sans', Arial, sans-serif" text-anchor="end" textLength="44" lengthAdjust="spacingAndGlyphs"><tspan font-size="16" dy="0">8-10</tspan><tspan font-size="11" dy="-5">Yrs</tspan></text>
<text transform="translate(1039.3,1433) rotate(-90)" font-family="'Liberation Sans', Arial, sans-serif" text-anchor="end" textLength="53" lengthAdjust="spacingAndGlyphs"><tspan font-size="16" dy="0">11-18</tspan><tspan font-size="11" dy="-5">Yrs</tspan></text>
<rect x="1080.90" y="1013.6" width="22.30" height="404.4" fill="url(#g6_0)"/>
<rect x="1080.90" y="1013.6" width="22.00" height="404.4" fill="url(#st1)"/>
<rect x="1102.90" y="1013.6" width="21.00" height="404.4" fill="url(#g6_1)"/>
<rect x="1102.90" y="1013.6" width="20.70" height="404.4" fill="url(#st2)"/>
<rect x="1102.50" y="1013.6" width="0.8" height="404.4" fill="#ffffff" fill-opacity="0.06"/>
<rect x="1123.60" y="1013.6" width="21.00" height="404.4" fill="url(#g6_2)"/>
<rect x="1123.60" y="1013.6" width="20.70" height="404.4" fill="url(#st3)"/>
<rect x="1123.20" y="1013.6" width="0.8" height="404.4" fill="#ffffff" fill-opacity="0.06"/>
<rect x="1144.30" y="1013.6" width="21.00" height="404.4" fill="url(#g6_3)"/>
<rect x="1144.30" y="1013.6" width="20.70" height="404.4" fill="url(#st4)"/>
<rect x="1143.90" y="1013.6" width="0.8" height="404.4" fill="#ffffff" fill-opacity="0.06"/>
<rect x="1165.00" y="1013.6" width="21.00" height="404.4" fill="url(#g6_4)"/>
<rect x="1165.00" y="1013.6" width="20.70" height="404.4" fill="url(#st0)"/>
<rect x="1164.60" y="1013.6" width="0.8" height="404.4" fill="#ffffff" fill-opacity="0.06"/>
<rect x="1185.70" y="1013.6" width="21.00" height="404.4" fill="url(#g6_5)"/>
<rect x="1185.70" y="1013.6" width="20.70" height="404.4" fill="url(#st1)"/>
<rect x="1185.30" y="1013.6" width="0.8" height="404.4" fill="#ffffff" fill-opacity="0.06"/>
<rect x="1080.90" y="1222.2" width="125.5" height="2" fill="#ffffff"/>
<text x="1143.6" y="998" font-family="'Liberation Sans', Arial, sans-serif" font-size="28" text-anchor="middle">CMCD4</text>
<line x1="1069.1" y1="1425.8" x2="1214.9" y2="1425.8" stroke="#000" stroke-width="2"/>
<text transform="translate(1095.1,1433) rotate(-90)" font-family="'Liberation Sans', Arial, sans-serif" text-anchor="end" textLength="57" lengthAdjust="spacingAndGlyphs"><tspan font-size="16" dy="0">9</tspan><tspan font-size="11" dy="-5">Mths</tspan><tspan font-size="16" dy="5">-1</tspan><tspan font-size="11" dy="-5">Yr</tspan></text>
<text transform="translate(1116.4,1433) rotate(-90)" font-family="'Liberation Sans', Arial, sans-serif" text-anchor="end" textLength="21" lengthAdjust="spacingAndGlyphs"><tspan font-size="16" dy="0">2</tspan><tspan font-size="11" dy="-5">Yrs</tspan></text>
<text transform="translate(1137.7,1433) rotate(-90)" font-family="'Liberation Sans', Arial, sans-serif" text-anchor="end" textLength="35" lengthAdjust="spacingAndGlyphs"><tspan font-size="16" dy="0">3-4</tspan><tspan font-size="11" dy="-5">Yrs</tspan></text>
<text transform="translate(1158.9,1433) rotate(-90)" font-family="'Liberation Sans', Arial, sans-serif" text-anchor="end" textLength="35" lengthAdjust="spacingAndGlyphs"><tspan font-size="16" dy="0">5-8</tspan><tspan font-size="11" dy="-5">Yrs</tspan></text>
<text transform="translate(1180.2,1433) rotate(-90)" font-family="'Liberation Sans', Arial, sans-serif" text-anchor="end" textLength="44" lengthAdjust="spacingAndGlyphs"><tspan font-size="16" dy="0">8-10</tspan><tspan font-size="11" dy="-5">Yrs</tspan></text>
<text transform="translate(1201.5,1433) rotate(-90)" font-family="'Liberation Sans', Arial, sans-serif" text-anchor="end" textLength="53" lengthAdjust="spacingAndGlyphs"><tspan font-size="16" dy="0">11-18</tspan><tspan font-size="11" dy="-5">Yrs</tspan></text>
<rect x="1243.10" y="1013.6" width="22.30" height="404.4" fill="url(#g7_0)"/>
<rect x="1243.10" y="1013.6" width="22.00" height="404.4" fill="url(#st2)"/>
<rect x="1265.10" y="1013.6" width="21.00" height="404.4" fill="url(#g7_1)"/>
<rect x="1265.10" y="1013.6" width="20.70" height="404.4" fill="url(#st3)"/>
<rect x="1264.70" y="1013.6" width="0.8" height="404.4" fill="#ffffff" fill-opacity="0.06"/>
<rect x="1285.80" y="1013.6" width="21.00" height="404.4" fill="url(#g7_2)"/>
<rect x="1285.80" y="1013.6" width="20.70" height="404.4" fill="url(#st4)"/>
<rect x="1285.40" y="1013.6" width="0.8" height="404.4" fill="#ffffff" fill-opacity="0.06"/>
<rect x="1306.50" y="1013.6" width="21.00" height="404.4" fill="url(#g7_3)"/>
<rect x="1306.50" y="1013.6" width="20.70" height="404.4" fill="url(#st0)"/>
<rect x="1306.10" y="1013.6" width="0.8" height="404.4" fill="#ffffff" fill-opacity="0.06"/>
<rect x="1327.20" y="1013.6" width="21.00" height="404.4" fill="url(#g7_4)"/>
<rect x="1327.20" y="1013.6" width="20.70" height="404.4" fill="url(#st1)"/>
<rect x="1326.80" y="1013.6" width="0.8" height="404.4" fill="#ffffff" fill-opacity="0.06"/>
<rect x="1347.90" y="1013.6" width="21.00" height="404.4" fill="url(#g7_5)"/>
<rect x="1347.90" y="1013.6" width="20.70" height="404.4" fill="url(#st2)"/>
<rect x="1347.50" y="1013.6" width="0.8" height="404.4" fill="#ffffff" fill-opacity="0.06"/>
<rect x="1243.10" y="1222.2" width="125.5" height="2" fill="#ffffff"/>
<text x="1305.8" y="998" font-family="'Liberation Sans', Arial, sans-serif" font-size="28" text-anchor="middle">CMCD8</text>
<line x1="1229.1" y1="1425.8" x2="1374.5" y2="1425.8" stroke="#000" stroke-width="2"/>
<text transform="translate(1257.3,1433) rotate(-90)" font-family="'Liberation Sans', Arial, sans-serif" text-anchor="end" textLength="57" lengthAdjust="spacingAndGlyphs"><tspan font-size="16" dy="0">9</tspan><tspan font-size="11" dy="-5">Mths</tspan><tspan font-size="16" dy="5">-1</tspan><tspan font-size="11" dy="-5">Yr</tspan></text>
<text transform="translate(1278.6,1433) rotate(-90)" font-family="'Liberation Sans', Arial, sans-serif" text-anchor="end" textLength="21" lengthAdjust="spacingAndGlyphs"><tspan font-size="16" dy="0">2</tspan><tspan font-size="11" dy="-5">Yrs</tspan></text>
<text transform="translate(1299.9,1433) rotate(-90)" font-family="'Liberation Sans', Arial, sans-serif" text-anchor="end" textLength="35" lengthAdjust="spacingAndGlyphs"><tspan font-size="16" dy="0">3-4</tspan><tspan font-size="11" dy="-5">Yrs</tspan></text>
<text transform="translate(1321.1,1433) rotate(-90)" font-family="'Liberation Sans', Arial, sans-serif" text-anchor="end" textLength="35" lengthAdjust="spacingAndGlyphs"><tspan font-size="16" dy="0">5-8</tspan><tspan font-size="11" dy="-5">Yrs</tspan></text>
<text transform="translate(1342.4,1433) rotate(-90)" font-family="'Liberation Sans', Arial, sans-serif" text-anchor="end" textLength="44" lengthAdjust="spacingAndGlyphs"><tspan font-size="16" dy="0">8-10</tspan><tspan font-size="11" dy="-5">Yrs</tspan></text>
<text transform="translate(1363.7,1433) rotate(-90)" font-family="'Liberation Sans', Arial, sans-serif" text-anchor="end" textLength="53" lengthAdjust="spacingAndGlyphs"><tspan font-size="16" dy="0">11-18</tspan><tspan font-size="11" dy="-5">Yrs</tspan></text>
<rect x="1405.30" y="1013.6" width="22.30" height="404.4" fill="url(#g8_0)"/>
<rect x="1405.30" y="1013.6" width="22.00" height="404.4" fill="url(#st3)"/>
<rect x="1427.30" y="1013.6" width="21.00" height="404.4" fill="url(#g8_1)"/>
<rect x="1427.30" y="1013.6" width="20.70" height="404.4" fill="url(#st4)"/>
<rect x="1426.90" y="1013.6" width="0.8" height="404.4" fill="#ffffff" fill-opacity="0.06"/>
<rect x="1448.00" y="1013.6" width="21.00" height="404.4" fill="url(#g8_2)"/>
<rect x="1448.00" y="1013.6" width="20.70" height="404.4" fill="url(#st0)"/>
<rect x="1447.60" y="1013.6" width="0.8" height="404.4" fill="#ffffff" fill-opacity="0.06"/>
<rect x="1468.70" y="1013.6" width="21.00" height="404.4" fill="url(#g8_3)"/>
<rect x="1468.70" y="1013.6" width="20.70" height="404.4" fill="url(#st1)"/>
<rect x="1468.30" y="1013.6" width="0.8" height="404.4" fill="#ffffff" fill-opacity="0.06"/>
<rect x="1489.40" y="1013.6" width="21.00" height="404.4" fill="url(#g8_4)"/>
<rect x="1489.40" y="1013.6" width="20.70" height="404.4" fill="url(#st2)"/>
<rect x="1489.00" y="1013.6" width="0.8" height="404.4" fill="#ffffff" fill-opacity="0.06"/>
<rect x="1510.10" y="1013.6" width="21.00" height="404.4" fill="url(#g8_5)"/>
<rect x="1510.10" y="1013.6" width="20.70" height="404.4" fill="url(#st3)"/>
<rect x="1509.70" y="1013.6" width="0.8" height="404.4" fill="#ffffff" fill-opacity="0.06"/>
<rect x="1405.30" y="1222.2" width="125.5" height="2" fill="#ffffff"/>
<text x="1468.0" y="998" font-family="'Liberation Sans', Arial, sans-serif" font-size="28" text-anchor="middle">nCMCD19</text>
<line x1="1394.7" y1="1425.8" x2="1540.9" y2="1425.8" stroke="#000" stroke-width="2"/>
<text transform="translate(1419.5,1433) rotate(-90)" font-family="'Liberation Sans', Arial, sans-serif" text-anchor="end" textLength="57" lengthAdjust="spacingAndGlyphs"><tspan font-size="16" dy="0">9</tspan><tspan font-size="11" dy="-5">Mths</tspan><tspan font-size="16" dy="5">-1</tspan><tspan font-size="11" dy="-5">Yr</tspan></text>
<text transform="translate(1440.8,1433) rotate(-90)" font-family="'Liberation Sans', Arial, sans-serif" text-anchor="end" textLength="21" lengthAdjust="spacingAndGlyphs"><tspan font-size="16" dy="0">2</tspan><tspan font-size="11" dy="-5">Yrs</tspan></text>
<text transform="translate(1462.1,1433) rotate(-90)" font-family="'Liberation Sans', Arial, sans-serif" text-anchor="end" textLength="35" lengthAdjust="spacingAndGlyphs"><tspan font-size="16" dy="0">3-4</tspan><tspan font-size="11" dy="-5">Yrs</tspan></text>
<text transform="translate(1483.3,1433) rotate(-90)" font-family="'Liberation Sans', Arial, sans-serif" text-anchor="end" textLength="35" lengthAdjust="spacingAndGlyphs"><tspan font-size="16" dy="0">5-8</tspan><tspan font-size="11" dy="-5">Yrs</tspan></text>
<text transform="translate(1504.6,1433) rotate(-90)" font-family="'Liberation Sans', Arial, sans-serif" text-anchor="end" textLength="44" lengthAdjust="spacingAndGlyphs"><tspan font-size="16" dy="0">8-10</tspan><tspan font-size="11" dy="-5">Yrs</tspan></text>
<text transform="translate(1525.9,1433) rotate(-90)" font-family="'Liberation Sans', Arial, sans-serif" text-anchor="end" textLength="53" lengthAdjust="spacingAndGlyphs"><tspan font-size="16" dy="0">11-18</tspan><tspan font-size="11" dy="-5">Yrs</tspan></text>
<rect x="1567.50" y="1013.6" width="22.30" height="404.4" fill="url(#g9_0)"/>
<rect x="1567.50" y="1013.6" width="22.00" height="404.4" fill="url(#st4)"/>
<rect x="1589.50" y="1013.6" width="21.00" height="404.4" fill="url(#g9_1)"/>
<rect x="1589.50" y="1013.6" width="20.70" height="404.4" fill="url(#st0)"/>
<rect x="1589.10" y="1013.6" width="0.8" height="404.4" fill="#ffffff" fill-opacity="0.06"/>
<rect x="1610.20" y="1013.6" width="21.00" height="404.4" fill="url(#g9_2)"/>
<rect x="1610.20" y="1013.6" width="20.70" height="404.4" fill="url(#st1)"/>
<rect x="1609.80" y="1013.6" width="0.8" height="404.4" fill="#ffffff" fill-opacity="0.06"/>
<rect x="1630.90" y="1013.6" width="21.00" height="404.4" fill="url(#g9_3)"/>
<rect x="1630.90" y="1013.6" width="20.70" height="404.4" fill="url(#st2)"/>
<rect x="1630.50" y="1013.6" width="0.8" height="404.4" fill="#ffffff" fill-opacity="0.06"/>
<rect x="1651.60" y="1013.6" width="21.00" height="404.4" fill="url(#g9_4)"/>
<rect x="1651.60" y="1013.6" width="20.70" height="404.4" fill="url(#st3)"/>
<rect x="1651.20" y="1013.6" width="0.8" height="404.4" fill="#ffffff" fill-opacity="0.06"/>
<rect x="1672.30" y="1013.6" width="21.00" height="404.4" fill="url(#g9_5)"/>
<rect x="1672.30" y="1013.6" width="20.70" height="404.4" fill="url(#st4)"/>
<rect x="1671.90" y="1013.6" width="0.8" height="404.4" fill="#ffffff" fill-opacity="0.06"/>
<rect x="1567.50" y="1222.2" width="125.5" height="2" fill="#ffffff"/>
<text x="1630.2" y="998" font-family="'Liberation Sans', Arial, sans-serif" font-size="28" text-anchor="middle">EMCD4</text>
<line x1="1557.2" y1="1425.8" x2="1703.7" y2="1425.8" stroke="#000" stroke-width="2"/>
<text transform="translate(1581.7,1433) rotate(-90)" font-family="'Liberation Sans', Arial, sans-serif" text-anchor="end" textLength="57" lengthAdjust="spacingAndGlyphs"><tspan font-size="16" dy="0">9</tspan><tspan font-size="11" dy="-5">Mths</tspan><tspan font-size="16" dy="5">-1</tspan><tspan font-size="11" dy="-5">Yr</tspan></text>
<text transform="translate(1603.0,1433) rotate(-90)" font-family="'Liberation Sans', Arial, sans-serif" text-anchor="end" textLength="21" lengthAdjust="spacingAndGlyphs"><tspan font-size="16" dy="0">2</tspan><tspan font-size="11" dy="-5">Yrs</tspan></text>
<text transform="translate(1624.3,1433) rotate(-90)" font-family="'Liberation Sans', Arial, sans-serif" text-anchor="end" textLength="35" lengthAdjust="spacingAndGlyphs"><tspan font-size="16" dy="0">3-4</tspan><tspan font-size="11" dy="-5">Yrs</tspan></text>
<text transform="translate(1645.5,1433) rotate(-90)" font-family="'Liberation Sans', Arial, sans-serif" text-anchor="end" textLength="35" lengthAdjust="spacingAndGlyphs"><tspan font-size="16" dy="0">5-8</tspan><tspan font-size="11" dy="-5">Yrs</tspan></text>
<text transform="translate(1666.8,1433) rotate(-90)" font-family="'Liberation Sans', Arial, sans-serif" text-anchor="end" textLength="44" lengthAdjust="spacingAndGlyphs"><tspan font-size="16" dy="0">8-10</tspan><tspan font-size="11" dy="-5">Yrs</tspan></text>
<text transform="translate(1688.1,1433) rotate(-90)" font-family="'Liberation Sans', Arial, sans-serif" text-anchor="end" textLength="53" lengthAdjust="spacingAndGlyphs"><tspan font-size="16" dy="0">11-18</tspan><tspan font-size="11" dy="-5">Yrs</tspan></text>
<rect x="1729.70" y="1013.6" width="22.30" height="404.4" fill="url(#g10_0)"/>
<rect x="1729.70" y="1013.6" width="22.00" height="404.4" fill="url(#st0)"/>
<rect x="1751.70" y="1013.6" width="21.00" height="404.4" fill="url(#g10_1)"/>
<rect x="1751.70" y="1013.6" width="20.70" height="404.4" fill="url(#st1)"/>
<rect x="1751.30" y="1013.6" width="0.8" height="404.4" fill="#ffffff" fill-opacity="0.06"/>
<rect x="1772.40" y="1013.6" width="21.00" height="404.4" fill="url(#g10_2)"/>
<rect x="1772.40" y="1013.6" width="20.70" height="404.4" fill="url(#st2)"/>
<rect x="1772.00" y="1013.6" width="0.8" height="404.4" fill="#ffffff" fill-opacity="0.06"/>
<rect x="1793.10" y="1013.6" width="21.00" height="404.4" fill="url(#g10_3)"/>
<rect x="1793.10" y="1013.6" width="20.70" height="404.4" fill="url(#st3)"/>
<rect x="1792.70" y="1013.6" width="0.8" height="404.4" fill="#ffffff" fill-opacity="0.06"/>
<rect x="1813.80" y="1013.6" width="21.00" height="404.4" fill="url(#g10_4)"/>
<rect x="1813.80" y="1013.6" width="20.70" height="404.4" fill="url(#st4)"/>
<rect x="1813.40" y="1013.6" width="0.8" height="404.4" fill="#ffffff" fill-opacity="0.06"/>
<rect x="1834.50" y="1013.6" width="21.00" height="404.4" fill="url(#g10_5)"/>
<rect x="1834.50" y="1013.6" width="20.70" height="404.4" fill="url(#st0)"/>
<rect x="1834.10" y="1013.6" width="0.8" height="404.4" fill="#ffffff" fill-opacity="0.06"/>
<rect x="1729.70" y="1222.2" width="125.5" height="2" fill="#ffffff"/>
<text x="1792.5" y="998" font-family="'Liberation Sans', Arial, sans-serif" font-size="28" text-anchor="middle">EMCD8</text>
<line x1="1717.5" y1="1425.8" x2="1863.3" y2="1425.8" stroke="#000" stroke-width="2"/>
<text transform="translate(1743.9,1433) rotate(-90)" font-family="'Liberation Sans', Arial, sans-serif" text-anchor="end" textLength="57" lengthAdjust="spacingAndGlyphs"><tspan font-size="16" dy="0">9</tspan><tspan font-size="11" dy="-5">Mths</tspan><tspan font-size="16" dy="5">-1</tspan><tspan font-size="11" dy="-5">Yr</tspan></text>
<text transform="translate(1765.2,1433) rotate(-90)" font-family="'Liberation Sans', Arial, sans-serif" text-anchor="end" textLength="21" lengthAdjust="spacingAndGlyphs"><tspan font-size="16" dy="0">2</tspan><tspan font-size="11" dy="-5">Yrs</tspan></text>
<text transform="translate(1786.5,1433) rotate(-90)" font-family="'Liberation Sans', Arial, sans-serif" text-anchor="end" textLength="35" lengthAdjust="spacingAndGlyphs"><tspan font-size="16" dy="0">3-4</tspan><tspan font-size="11" dy="-5">Yrs</tspan></text>
<text transform="translate(1807.7,1433) rotate(-90)" font-family="'Liberation Sans', Arial, sans-serif" text-anchor="end" textLength="35" lengthAdjust="spacingAndGlyphs"><tspan font-size="16" dy="0">5-8</tspan><tspan font-size="11" dy="-5">Yrs</tspan></text>
<text transform="translate(1829.0,1433) rotate(-90)" font-family="'Liberation Sans', Arial, sans-serif" text-anchor="end" textLength="44" lengthAdjust="spacingAndGlyphs"><tspan font-size="16" dy="0">8-10</tspan><tspan font-size="11" dy="-5">Yrs</tspan></text>
<text transform="translate(1850.3,1433) rotate(-90)" font-family="'Liberation Sans', Arial, sans-serif" text-anchor="end" textLength="53" lengthAdjust="spacingAndGlyphs"><tspan font-size="16" dy="0">11-18</tspan><tspan font-size="11" dy="-5">Yrs</tspan></text>
<rect x="1891.90" y="1013.6" width="22.30" height="404.4" fill="url(#g11_0)"/>
<rect x="1891.90" y="1013.6" width="22.00" height="404.4" fill="url(#st1)"/>
<rect x="1913.90" y="1013.6" width="21.00" height="404.4" fill="url(#g11_1)"/>
<rect x="1913.90" y="1013.6" width="20.70" height="404.4" fill="url(#st2)"/>
<rect x="1913.50" y="1013.6" width="0.8" height="404.4" fill="#ffffff" fill-opacity="0.06"/>
<rect x="1934.60" y="1013.6" width="21.00" height="404.4" fill="url(#g11_2)"/>
<rect x="1934.60" y="1013.6" width="20.70" height="404.4" fill="url(#st3)"/>
<rect x="1934.20" y="1013.6" width="0.8" height="404.4" fill="#ffffff" fill-opacity="0.06"/>
<rect x="1955.30" y="1013.6" width="21.00" height="404.4" fill="url(#g11_3)"/>
<rect x="1955.30" y="1013.6" width="20.70" height="404.4" fill="url(#st4)"/>
<rect x="1954.90" y="1013.6" width="0.8" height="404.4" fill="#ffffff" fill-opacity="0.06"/>
<rect x="1976.00" y="1013.6" width="21.00" height="404.4" fill="url(#g11_4)"/>
<rect x="1976.00" y="1013.6" width="20.70" height="404.4" fill="url(#st0)"/>
<rect x="1975.60" y="1013.6" width="0.8" height="404.4" fill="#ffffff" fill-opacity="0.06"/>
<rect x="1996.70" y="1013.6" width="21.00" height="404.4" fill="url(#g11_5)"/>
<rect x="1996.70" y="1013.6" width="20.70" height="404.4" fill="url(#st1)"/>
<rect x="1996.30" y="1013.6" width="0.8" height="404.4" fill="#ffffff" fill-opacity="0.06"/>
<rect x="1891.90" y="1222.2" width="125.5" height="2" fill="#ffffff"/>
<text x="1954.6" y="998" font-family="'Liberation Sans', Arial, sans-serif" font-size="28" text-anchor="middle">CMCD19</text>
<line x1="1883.3" y1="1425.8" x2="2029.3" y2="1425.8" stroke="#000" stroke-width="2"/>
<text transform="translate(1906.1,1433) rotate(-90)" font-family="'Liberation Sans', Arial, sans-serif" text-anchor="end" textLength="57" lengthAdjust="spacingAndGlyphs"><tspan font-size="16" dy="0">9</tspan><tspan font-size="11" dy="-5">Mths</tspan><tspan font-size="16" dy="5">-1</tspan><tspan font-size="11" dy="-5">Yr</tspan></text>
<text transform="translate(1927.4,1433) rotate(-90)" font-family="'Liberation Sans', Arial, sans-serif" text-anchor="end" textLength="21" lengthAdjust="spacingAndGlyphs"><tspan font-size="16" dy="0">2</tspan><tspan font-size="11" dy="-5">Yrs</tspan></text>
<text transform="translate(1948.7,1433) rotate(-90)" font-family="'Liberation Sans', Arial, sans-serif" text-anchor="end" textLength="35" lengthAdjust="spacingAndGlyphs"><tspan font-size="16" dy="0">3-4</tspan><tspan font-size="11" dy="-5">Yrs</tspan></text>
<text transform="translate(1969.9,1433) rotate(-90)" font-family="'Liberation Sans', Arial, sans-serif" text-anchor="end" textLength="35" lengthAdjust="spacingAndGlyphs"><tspan font-size="16" dy="0">5-8</tspan><tspan font-size="11" dy="-5">Yrs</tspan></text>
<text transform="translate(1991.2,1433) rotate(-90)" font-family="'Liberation Sans', Arial, sans-serif" text-anchor="end" textLength="44" lengthAdjust="spacingAndGlyphs"><tspan font-size="16" dy="0">8-10</tspan><tspan font-size="11" dy="-5">Yrs</tspan></text>
<text transform="translate(2012.5,1433) rotate(-90)" font-family="'Liberation Sans', Arial, sans-serif" text-anchor="end" textLength="53" lengthAdjust="spacingAndGlyphs"><tspan font-size="16" dy="0">11-18</tspan><tspan font-size="11" dy="-5">Yrs</tspan></text>
</svg>
</body></html>
